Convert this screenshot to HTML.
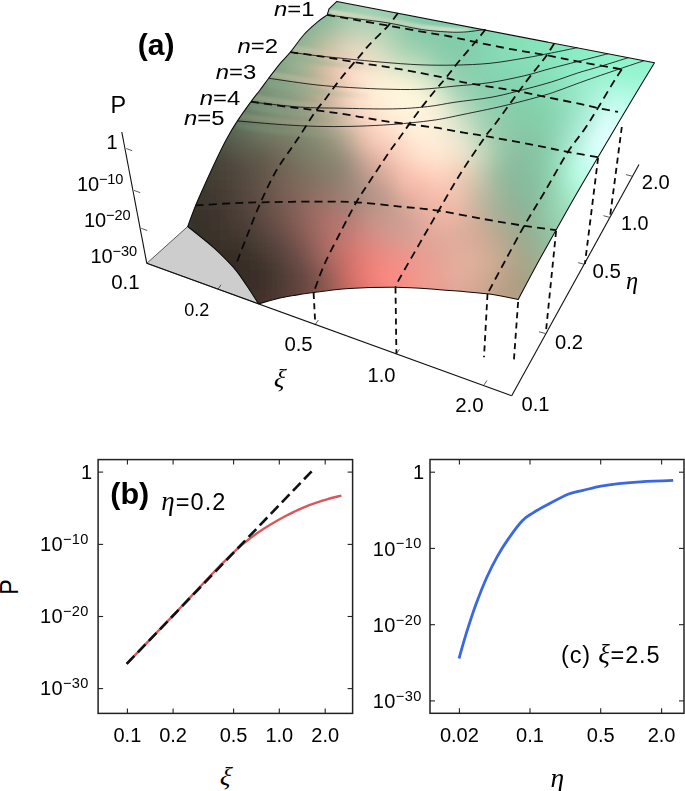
<!DOCTYPE html><html><head><meta charset="utf-8"><title>fig</title><style>html,body{margin:0;padding:0;background:#fff}svg{display:block}</style></head><body><svg width="685" height="791" viewBox="0 0 685 791"><defs><clipPath id="sc"><path d="M187.7,226.5 C189,223 192.8,212.5 195.7,205.3 C198.6,198.1 202,190.7 205.4,183.2 C208.8,175.7 212.5,167.6 216,160.2 C219.5,152.8 223,145.5 226.6,138.9 C230.2,132.3 233.5,126.8 237.6,120.6 C241.7,114.4 247.3,106.7 251,101.6 C254.7,96.5 256.9,94 259.8,90.2 C262.7,86.4 265.3,82.7 268.5,78.5 C271.7,74.3 275.4,69.2 279,64.8 C282.6,60.4 286.3,57.2 290.4,52.2 C294.5,47.2 299.1,40 303.6,35 C308.1,29.9 313.7,25.2 317.6,21.9 C321.5,18.5 325.6,16.1 327.2,14.9 L329,8.8 L336.9,1.4 L654.5,62.8 C650.7,69.1 637.2,91.2 631.5,100.7 C625.8,110.2 625.6,110.6 620,120 C614.4,129.4 605.3,144.8 598.1,157 C590.9,169.2 584,180.8 577,193 C570,205.2 562.9,217.9 556.1,230.1 C549.3,242.3 542.3,254.4 536,266 C529.7,277.6 521.2,293.9 518.2,299.5 C513.1,298.6 501,295.5 487.5,293.8 C474,292.1 452.4,290.5 437.1,289.4 C421.8,288.3 410.1,287.3 395.5,287.2 C380.9,287.1 363.1,287.6 349.5,288.5 C335.9,289.4 324.6,291 313.6,292.5 C302.7,294 293,295.4 283.8,297.3 C274.6,299.2 262.8,302.7 258.6,303.8 C256.7,300.9 251.3,292.2 247.2,286.2 C243,280.2 239.3,274.1 233.7,267.7 C228.1,261.3 221.3,254.5 213.6,247.6 C205.9,240.7 192,230 187.7,226.5 Z"/></clipPath>
<filter id="bl" x="-50%" y="-50%" width="200%" height="200%"><feGaussianBlur stdDeviation="18"/></filter>
<filter id="bl2" x="-50%" y="-50%" width="200%" height="200%"><feGaussianBlur stdDeviation="9"/></filter>
<linearGradient id="base" gradientUnits="userSpaceOnUse" x1="200" y1="260" x2="600" y2="60"><stop offset="0" stop-color="#2e2621"/><stop offset="0.25" stop-color="#6a5a4c"/><stop offset="0.5" stop-color="#a8b69a"/><stop offset="0.75" stop-color="#8cd4b0"/><stop offset="1" stop-color="#8cecc4"/></linearGradient>
<filter id="bl3" x="-10%" y="-10%" width="120%" height="120%"><feGaussianBlur stdDeviation="6"/></filter>
<filter id="bl4" x="-10%" y="-30%" width="120%" height="160%"><feGaussianBlur stdDeviation="1.6"/></filter>
</defs>
<g clip-path="url(#sc)"><g filter="url(#bl3)">
<rect x="310" y="-10" width="10.5" height="10.5" fill="#7cba99"/>
<rect x="320" y="-10" width="10.5" height="10.5" fill="#82bf9e"/>
<rect x="330" y="-10" width="10.5" height="10.5" fill="#88c4a3"/>
<rect x="340" y="-10" width="10.5" height="10.5" fill="#8ec9a8"/>
<rect x="350" y="-10" width="10.5" height="10.5" fill="#91ccab"/>
<rect x="360" y="-10" width="10.5" height="10.5" fill="#92cdac"/>
<rect x="370" y="-10" width="10.5" height="10.5" fill="#90ceac"/>
<rect x="380" y="-10" width="10.5" height="10.5" fill="#8dceac"/>
<rect x="390" y="-10" width="10.5" height="10.5" fill="#88ceab"/>
<rect x="400" y="-10" width="10.5" height="10.5" fill="#84cdaa"/>
<rect x="410" y="-10" width="10.5" height="10.5" fill="#80cdaa"/>
<rect x="290" y="0" width="10.5" height="10.5" fill="#77b291"/>
<rect x="300" y="0" width="10.5" height="10.5" fill="#7bb695"/>
<rect x="310" y="0" width="10.5" height="10.5" fill="#80b999"/>
<rect x="320" y="0" width="10.5" height="10.5" fill="#85be9d"/>
<rect x="330" y="0" width="10.5" height="10.5" fill="#8ec4a4"/>
<rect x="340" y="0" width="10.5" height="10.5" fill="#98ccab"/>
<rect x="350" y="0" width="10.5" height="10.5" fill="#9bceae"/>
<rect x="360" y="0" width="10.5" height="10.5" fill="#9bcfaf"/>
<rect x="370" y="0" width="10.5" height="10.5" fill="#99cfaf"/>
<rect x="380" y="0" width="10.5" height="10.5" fill="#94cfae"/>
<rect x="390" y="0" width="10.5" height="10.5" fill="#8eceac"/>
<rect x="400" y="0" width="10.5" height="10.5" fill="#88cdab"/>
<rect x="410" y="0" width="10.5" height="10.5" fill="#83cdaa"/>
<rect x="420" y="0" width="10.5" height="10.5" fill="#7fcda9"/>
<rect x="430" y="0" width="10.5" height="10.5" fill="#7cceaa"/>
<rect x="440" y="0" width="10.5" height="10.5" fill="#7acfaa"/>
<rect x="450" y="0" width="10.5" height="10.5" fill="#7ad1ab"/>
<rect x="460" y="0" width="10.5" height="10.5" fill="#79d3ad"/>
<rect x="470" y="0" width="10.5" height="10.5" fill="#7ad5ae"/>
<rect x="280" y="10" width="10.5" height="10.5" fill="#76ae8d"/>
<rect x="290" y="10" width="10.5" height="10.5" fill="#7bb191"/>
<rect x="300" y="10" width="10.5" height="10.5" fill="#7fb595"/>
<rect x="310" y="10" width="10.5" height="10.5" fill="#84b898"/>
<rect x="320" y="10" width="10.5" height="10.5" fill="#89bb9b"/>
<rect x="330" y="10" width="10.5" height="10.5" fill="#93c2a2"/>
<rect x="340" y="10" width="10.5" height="10.5" fill="#a1cbac"/>
<rect x="350" y="10" width="10.5" height="10.5" fill="#a6cfb0"/>
<rect x="360" y="10" width="10.5" height="10.5" fill="#a7d0b1"/>
<rect x="370" y="10" width="10.5" height="10.5" fill="#a3d1b1"/>
<rect x="380" y="10" width="10.5" height="10.5" fill="#9cd0b0"/>
<rect x="390" y="10" width="10.5" height="10.5" fill="#94cead"/>
<rect x="400" y="10" width="10.5" height="10.5" fill="#8ccdab"/>
<rect x="410" y="10" width="10.5" height="10.5" fill="#85ccaa"/>
<rect x="420" y="10" width="10.5" height="10.5" fill="#81cca9"/>
<rect x="430" y="10" width="10.5" height="10.5" fill="#7ecda9"/>
<rect x="440" y="10" width="10.5" height="10.5" fill="#7cceaa"/>
<rect x="450" y="10" width="10.5" height="10.5" fill="#7bcfab"/>
<rect x="460" y="10" width="10.5" height="10.5" fill="#7bd2ad"/>
<rect x="470" y="10" width="10.5" height="10.5" fill="#7bd4ae"/>
<rect x="480" y="10" width="10.5" height="10.5" fill="#7cd7b0"/>
<rect x="490" y="10" width="10.5" height="10.5" fill="#7ddab3"/>
<rect x="500" y="10" width="10.5" height="10.5" fill="#7eddb5"/>
<rect x="510" y="10" width="10.5" height="10.5" fill="#7fdfb6"/>
<rect x="520" y="10" width="10.5" height="10.5" fill="#7fe2b8"/>
<rect x="280" y="20" width="10.5" height="10.5" fill="#7aad8d"/>
<rect x="290" y="20" width="10.5" height="10.5" fill="#7fb191"/>
<rect x="300" y="20" width="10.5" height="10.5" fill="#85b495"/>
<rect x="310" y="20" width="10.5" height="10.5" fill="#8cb899"/>
<rect x="320" y="20" width="10.5" height="10.5" fill="#94bb9c"/>
<rect x="330" y="20" width="10.5" height="10.5" fill="#9fc2a3"/>
<rect x="340" y="20" width="10.5" height="10.5" fill="#adcaad"/>
<rect x="350" y="20" width="10.5" height="10.5" fill="#b4d0b2"/>
<rect x="360" y="20" width="10.5" height="10.5" fill="#b4d2b5"/>
<rect x="370" y="20" width="10.5" height="10.5" fill="#b0d3b4"/>
<rect x="380" y="20" width="10.5" height="10.5" fill="#a7d1b2"/>
<rect x="390" y="20" width="10.5" height="10.5" fill="#9bcfaf"/>
<rect x="400" y="20" width="10.5" height="10.5" fill="#8fccab"/>
<rect x="410" y="20" width="10.5" height="10.5" fill="#87cbaa"/>
<rect x="420" y="20" width="10.5" height="10.5" fill="#83cba9"/>
<rect x="430" y="20" width="10.5" height="10.5" fill="#81cca9"/>
<rect x="440" y="20" width="10.5" height="10.5" fill="#7fcdaa"/>
<rect x="450" y="20" width="10.5" height="10.5" fill="#7dceab"/>
<rect x="460" y="20" width="10.5" height="10.5" fill="#7dd1ac"/>
<rect x="470" y="20" width="10.5" height="10.5" fill="#7dd3ae"/>
<rect x="480" y="20" width="10.5" height="10.5" fill="#7ed7b1"/>
<rect x="490" y="20" width="10.5" height="10.5" fill="#80dab3"/>
<rect x="500" y="20" width="10.5" height="10.5" fill="#81ddb5"/>
<rect x="510" y="20" width="10.5" height="10.5" fill="#81dfb7"/>
<rect x="520" y="20" width="10.5" height="10.5" fill="#82e2b8"/>
<rect x="530" y="20" width="10.5" height="10.5" fill="#82e4ba"/>
<rect x="540" y="20" width="10.5" height="10.5" fill="#82e6bb"/>
<rect x="550" y="20" width="10.5" height="10.5" fill="#82e8bd"/>
<rect x="560" y="20" width="10.5" height="10.5" fill="#82eabf"/>
<rect x="570" y="20" width="10.5" height="10.5" fill="#83ebc0"/>
<rect x="270" y="30" width="10.5" height="10.5" fill="#79a889"/>
<rect x="280" y="30" width="10.5" height="10.5" fill="#7fad8d"/>
<rect x="290" y="30" width="10.5" height="10.5" fill="#85b192"/>
<rect x="300" y="30" width="10.5" height="10.5" fill="#8cb596"/>
<rect x="310" y="30" width="10.5" height="10.5" fill="#98b89a"/>
<rect x="320" y="30" width="10.5" height="10.5" fill="#a8bda0"/>
<rect x="330" y="30" width="10.5" height="10.5" fill="#b5c4a8"/>
<rect x="340" y="30" width="10.5" height="10.5" fill="#c0ccb0"/>
<rect x="350" y="30" width="10.5" height="10.5" fill="#c5d2b7"/>
<rect x="360" y="30" width="10.5" height="10.5" fill="#c5d5b9"/>
<rect x="370" y="30" width="10.5" height="10.5" fill="#bfd6b9"/>
<rect x="380" y="30" width="10.5" height="10.5" fill="#b3d4b6"/>
<rect x="390" y="30" width="10.5" height="10.5" fill="#a5d1b1"/>
<rect x="400" y="30" width="10.5" height="10.5" fill="#95cdad"/>
<rect x="410" y="30" width="10.5" height="10.5" fill="#8ccbaa"/>
<rect x="420" y="30" width="10.5" height="10.5" fill="#88cbaa"/>
<rect x="430" y="30" width="10.5" height="10.5" fill="#85ccaa"/>
<rect x="440" y="30" width="10.5" height="10.5" fill="#82ccaa"/>
<rect x="450" y="30" width="10.5" height="10.5" fill="#80cdaa"/>
<rect x="460" y="30" width="10.5" height="10.5" fill="#7fcfac"/>
<rect x="470" y="30" width="10.5" height="10.5" fill="#80d3ae"/>
<rect x="480" y="30" width="10.5" height="10.5" fill="#81d6b1"/>
<rect x="490" y="30" width="10.5" height="10.5" fill="#82dab4"/>
<rect x="500" y="30" width="10.5" height="10.5" fill="#84ddb6"/>
<rect x="510" y="30" width="10.5" height="10.5" fill="#84e0b7"/>
<rect x="520" y="30" width="10.5" height="10.5" fill="#84e2b9"/>
<rect x="530" y="30" width="10.5" height="10.5" fill="#84e4ba"/>
<rect x="540" y="30" width="10.5" height="10.5" fill="#83e6bc"/>
<rect x="550" y="30" width="10.5" height="10.5" fill="#84e8be"/>
<rect x="560" y="30" width="10.5" height="10.5" fill="#84eabf"/>
<rect x="570" y="30" width="10.5" height="10.5" fill="#85ecc1"/>
<rect x="580" y="30" width="10.5" height="10.5" fill="#86edc3"/>
<rect x="590" y="30" width="10.5" height="10.5" fill="#86efc4"/>
<rect x="600" y="30" width="10.5" height="10.5" fill="#86f0c5"/>
<rect x="610" y="30" width="10.5" height="10.5" fill="#87f1c6"/>
<rect x="620" y="30" width="10.5" height="10.5" fill="#87f2c7"/>
<rect x="260" y="40" width="10.5" height="10.5" fill="#76a283"/>
<rect x="270" y="40" width="10.5" height="10.5" fill="#7da788"/>
<rect x="280" y="40" width="10.5" height="10.5" fill="#85ac8d"/>
<rect x="290" y="40" width="10.5" height="10.5" fill="#8db192"/>
<rect x="300" y="40" width="10.5" height="10.5" fill="#96b697"/>
<rect x="310" y="40" width="10.5" height="10.5" fill="#a7b99c"/>
<rect x="320" y="40" width="10.5" height="10.5" fill="#bebfa3"/>
<rect x="330" y="40" width="10.5" height="10.5" fill="#cbc7ac"/>
<rect x="340" y="40" width="10.5" height="10.5" fill="#d5cfb6"/>
<rect x="350" y="40" width="10.5" height="10.5" fill="#dad6bd"/>
<rect x="360" y="40" width="10.5" height="10.5" fill="#d8d9bf"/>
<rect x="370" y="40" width="10.5" height="10.5" fill="#d1dabe"/>
<rect x="380" y="40" width="10.5" height="10.5" fill="#c2d8ba"/>
<rect x="390" y="40" width="10.5" height="10.5" fill="#b1d4b6"/>
<rect x="400" y="40" width="10.5" height="10.5" fill="#a3d1b1"/>
<rect x="410" y="40" width="10.5" height="10.5" fill="#99cfaf"/>
<rect x="420" y="40" width="10.5" height="10.5" fill="#92cead"/>
<rect x="430" y="40" width="10.5" height="10.5" fill="#8bcdab"/>
<rect x="440" y="40" width="10.5" height="10.5" fill="#86ccaa"/>
<rect x="450" y="40" width="10.5" height="10.5" fill="#83ccaa"/>
<rect x="460" y="40" width="10.5" height="10.5" fill="#82ceac"/>
<rect x="470" y="40" width="10.5" height="10.5" fill="#82d2ae"/>
<rect x="480" y="40" width="10.5" height="10.5" fill="#83d6b2"/>
<rect x="490" y="40" width="10.5" height="10.5" fill="#85dab5"/>
<rect x="500" y="40" width="10.5" height="10.5" fill="#86ddb6"/>
<rect x="510" y="40" width="10.5" height="10.5" fill="#87e0b8"/>
<rect x="520" y="40" width="10.5" height="10.5" fill="#86e1b9"/>
<rect x="530" y="40" width="10.5" height="10.5" fill="#85e3ba"/>
<rect x="540" y="40" width="10.5" height="10.5" fill="#85e5bc"/>
<rect x="550" y="40" width="10.5" height="10.5" fill="#86e7be"/>
<rect x="560" y="40" width="10.5" height="10.5" fill="#86eac0"/>
<rect x="570" y="40" width="10.5" height="10.5" fill="#87ecc2"/>
<rect x="580" y="40" width="10.5" height="10.5" fill="#88eec4"/>
<rect x="590" y="40" width="10.5" height="10.5" fill="#89efc6"/>
<rect x="600" y="40" width="10.5" height="10.5" fill="#89f1c7"/>
<rect x="610" y="40" width="10.5" height="10.5" fill="#89f2c8"/>
<rect x="620" y="40" width="10.5" height="10.5" fill="#89f2c8"/>
<rect x="630" y="40" width="10.5" height="10.5" fill="#8af3c9"/>
<rect x="640" y="40" width="10.5" height="10.5" fill="#8af4ca"/>
<rect x="650" y="40" width="10.5" height="10.5" fill="#8cf5cb"/>
<rect x="660" y="40" width="10.5" height="10.5" fill="#8ef6cd"/>
<rect x="250" y="50" width="10.5" height="10.5" fill="#719a7c"/>
<rect x="260" y="50" width="10.5" height="10.5" fill="#78a081"/>
<rect x="270" y="50" width="10.5" height="10.5" fill="#80a587"/>
<rect x="280" y="50" width="10.5" height="10.5" fill="#8aab8c"/>
<rect x="290" y="50" width="10.5" height="10.5" fill="#95b192"/>
<rect x="300" y="50" width="10.5" height="10.5" fill="#a3b697"/>
<rect x="310" y="50" width="10.5" height="10.5" fill="#b5b99d"/>
<rect x="320" y="50" width="10.5" height="10.5" fill="#cdc0a4"/>
<rect x="330" y="50" width="10.5" height="10.5" fill="#ddc9af"/>
<rect x="340" y="50" width="10.5" height="10.5" fill="#e6d2ba"/>
<rect x="350" y="50" width="10.5" height="10.5" fill="#ecdac5"/>
<rect x="360" y="50" width="10.5" height="10.5" fill="#e7ddc5"/>
<rect x="370" y="50" width="10.5" height="10.5" fill="#dfdec4"/>
<rect x="380" y="50" width="10.5" height="10.5" fill="#d0ddc0"/>
<rect x="390" y="50" width="10.5" height="10.5" fill="#bfd9bb"/>
<rect x="400" y="50" width="10.5" height="10.5" fill="#b3d7b8"/>
<rect x="410" y="50" width="10.5" height="10.5" fill="#abd5b5"/>
<rect x="420" y="50" width="10.5" height="10.5" fill="#a0d2b2"/>
<rect x="430" y="50" width="10.5" height="10.5" fill="#94cfae"/>
<rect x="440" y="50" width="10.5" height="10.5" fill="#8bcdac"/>
<rect x="450" y="50" width="10.5" height="10.5" fill="#87cdab"/>
<rect x="460" y="50" width="10.5" height="10.5" fill="#85cdab"/>
<rect x="470" y="50" width="10.5" height="10.5" fill="#84d0ae"/>
<rect x="480" y="50" width="10.5" height="10.5" fill="#85d6b3"/>
<rect x="490" y="50" width="10.5" height="10.5" fill="#86d9b6"/>
<rect x="500" y="50" width="10.5" height="10.5" fill="#87dcb6"/>
<rect x="510" y="50" width="10.5" height="10.5" fill="#87deb7"/>
<rect x="520" y="50" width="10.5" height="10.5" fill="#86e0b8"/>
<rect x="530" y="50" width="10.5" height="10.5" fill="#86e2b9"/>
<rect x="540" y="50" width="10.5" height="10.5" fill="#86e4bb"/>
<rect x="550" y="50" width="10.5" height="10.5" fill="#87e7be"/>
<rect x="560" y="50" width="10.5" height="10.5" fill="#89eac1"/>
<rect x="570" y="50" width="10.5" height="10.5" fill="#8aecc4"/>
<rect x="580" y="50" width="10.5" height="10.5" fill="#8ceec6"/>
<rect x="590" y="50" width="10.5" height="10.5" fill="#8df0c8"/>
<rect x="600" y="50" width="10.5" height="10.5" fill="#8df1c9"/>
<rect x="610" y="50" width="10.5" height="10.5" fill="#8df2ca"/>
<rect x="620" y="50" width="10.5" height="10.5" fill="#8cf3ca"/>
<rect x="630" y="50" width="10.5" height="10.5" fill="#8cf3ca"/>
<rect x="640" y="50" width="10.5" height="10.5" fill="#8df4cb"/>
<rect x="650" y="50" width="10.5" height="10.5" fill="#8ff5cd"/>
<rect x="660" y="50" width="10.5" height="10.5" fill="#91f6cf"/>
<rect x="240" y="60" width="10.5" height="10.5" fill="#6c9275"/>
<rect x="250" y="60" width="10.5" height="10.5" fill="#72977a"/>
<rect x="260" y="60" width="10.5" height="10.5" fill="#799d7f"/>
<rect x="270" y="60" width="10.5" height="10.5" fill="#82a385"/>
<rect x="280" y="60" width="10.5" height="10.5" fill="#8ca98a"/>
<rect x="290" y="60" width="10.5" height="10.5" fill="#99b091"/>
<rect x="300" y="60" width="10.5" height="10.5" fill="#a7b496"/>
<rect x="310" y="60" width="10.5" height="10.5" fill="#b9b79a"/>
<rect x="320" y="60" width="10.5" height="10.5" fill="#d4bfa4"/>
<rect x="330" y="60" width="10.5" height="10.5" fill="#e7c8af"/>
<rect x="340" y="60" width="10.5" height="10.5" fill="#f0d2bc"/>
<rect x="350" y="60" width="10.5" height="10.5" fill="#f5dbc6"/>
<rect x="360" y="60" width="10.5" height="10.5" fill="#f2dfc9"/>
<rect x="370" y="60" width="10.5" height="10.5" fill="#ece2ca"/>
<rect x="380" y="60" width="10.5" height="10.5" fill="#e1e3c8"/>
<rect x="390" y="60" width="10.5" height="10.5" fill="#d4e2c5"/>
<rect x="400" y="60" width="10.5" height="10.5" fill="#c9e0c1"/>
<rect x="410" y="60" width="10.5" height="10.5" fill="#c0ddbe"/>
<rect x="420" y="60" width="10.5" height="10.5" fill="#b4d9ba"/>
<rect x="430" y="60" width="10.5" height="10.5" fill="#a3d4b4"/>
<rect x="440" y="60" width="10.5" height="10.5" fill="#96d0b0"/>
<rect x="450" y="60" width="10.5" height="10.5" fill="#8fceae"/>
<rect x="460" y="60" width="10.5" height="10.5" fill="#89ceac"/>
<rect x="470" y="60" width="10.5" height="10.5" fill="#86d0ae"/>
<rect x="480" y="60" width="10.5" height="10.5" fill="#86d4b2"/>
<rect x="490" y="60" width="10.5" height="10.5" fill="#86d7b4"/>
<rect x="500" y="60" width="10.5" height="10.5" fill="#86d9b5"/>
<rect x="510" y="60" width="10.5" height="10.5" fill="#86dbb5"/>
<rect x="520" y="60" width="10.5" height="10.5" fill="#86ddb6"/>
<rect x="530" y="60" width="10.5" height="10.5" fill="#86dfb8"/>
<rect x="540" y="60" width="10.5" height="10.5" fill="#87e2bb"/>
<rect x="550" y="60" width="10.5" height="10.5" fill="#88e5be"/>
<rect x="560" y="60" width="10.5" height="10.5" fill="#8be9c1"/>
<rect x="570" y="60" width="10.5" height="10.5" fill="#8decc5"/>
<rect x="580" y="60" width="10.5" height="10.5" fill="#90eec8"/>
<rect x="590" y="60" width="10.5" height="10.5" fill="#92f0cb"/>
<rect x="600" y="60" width="10.5" height="10.5" fill="#93f2cc"/>
<rect x="610" y="60" width="10.5" height="10.5" fill="#92f3cd"/>
<rect x="620" y="60" width="10.5" height="10.5" fill="#90f4cc"/>
<rect x="630" y="60" width="10.5" height="10.5" fill="#90f4cc"/>
<rect x="640" y="60" width="10.5" height="10.5" fill="#90f5cd"/>
<rect x="650" y="60" width="10.5" height="10.5" fill="#93f6cf"/>
<rect x="660" y="60" width="10.5" height="10.5" fill="#95f7d1"/>
<rect x="240" y="70" width="10.5" height="10.5" fill="#6c8e72"/>
<rect x="250" y="70" width="10.5" height="10.5" fill="#729478"/>
<rect x="260" y="70" width="10.5" height="10.5" fill="#7a9a7d"/>
<rect x="270" y="70" width="10.5" height="10.5" fill="#82a082"/>
<rect x="280" y="70" width="10.5" height="10.5" fill="#8ba687"/>
<rect x="290" y="70" width="10.5" height="10.5" fill="#97ab8d"/>
<rect x="300" y="70" width="10.5" height="10.5" fill="#a5af92"/>
<rect x="310" y="70" width="10.5" height="10.5" fill="#b9b398"/>
<rect x="320" y="70" width="10.5" height="10.5" fill="#d2bba2"/>
<rect x="330" y="70" width="10.5" height="10.5" fill="#e6c5ad"/>
<rect x="340" y="70" width="10.5" height="10.5" fill="#f4d1bc"/>
<rect x="350" y="70" width="10.5" height="10.5" fill="#fbdec9"/>
<rect x="360" y="70" width="10.5" height="10.5" fill="#fbe5cf"/>
<rect x="370" y="70" width="10.5" height="10.5" fill="#f8e8d1"/>
<rect x="380" y="70" width="10.5" height="10.5" fill="#f2ebd2"/>
<rect x="390" y="70" width="10.5" height="10.5" fill="#eaebd0"/>
<rect x="400" y="70" width="10.5" height="10.5" fill="#e2eace"/>
<rect x="410" y="70" width="10.5" height="10.5" fill="#d8e7c9"/>
<rect x="420" y="70" width="10.5" height="10.5" fill="#cbe2c4"/>
<rect x="430" y="70" width="10.5" height="10.5" fill="#b9dcbe"/>
<rect x="440" y="70" width="10.5" height="10.5" fill="#a7d6b7"/>
<rect x="450" y="70" width="10.5" height="10.5" fill="#98d1b1"/>
<rect x="460" y="70" width="10.5" height="10.5" fill="#8ecfae"/>
<rect x="470" y="70" width="10.5" height="10.5" fill="#89d0ae"/>
<rect x="480" y="70" width="10.5" height="10.5" fill="#87d2b0"/>
<rect x="490" y="70" width="10.5" height="10.5" fill="#86d4b1"/>
<rect x="500" y="70" width="10.5" height="10.5" fill="#85d6b2"/>
<rect x="510" y="70" width="10.5" height="10.5" fill="#85d8b3"/>
<rect x="520" y="70" width="10.5" height="10.5" fill="#85dab4"/>
<rect x="530" y="70" width="10.5" height="10.5" fill="#86ddb6"/>
<rect x="540" y="70" width="10.5" height="10.5" fill="#87e0b9"/>
<rect x="550" y="70" width="10.5" height="10.5" fill="#89e3bd"/>
<rect x="560" y="70" width="10.5" height="10.5" fill="#8de7c1"/>
<rect x="570" y="70" width="10.5" height="10.5" fill="#91ebc6"/>
<rect x="580" y="70" width="10.5" height="10.5" fill="#95eeca"/>
<rect x="590" y="70" width="10.5" height="10.5" fill="#98f0ce"/>
<rect x="600" y="70" width="10.5" height="10.5" fill="#9af3d1"/>
<rect x="610" y="70" width="10.5" height="10.5" fill="#9af4d2"/>
<rect x="620" y="70" width="10.5" height="10.5" fill="#98f5d1"/>
<rect x="630" y="70" width="10.5" height="10.5" fill="#97f5d1"/>
<rect x="640" y="70" width="10.5" height="10.5" fill="#97f6d1"/>
<rect x="650" y="70" width="10.5" height="10.5" fill="#99f7d3"/>
<rect x="660" y="70" width="10.5" height="10.5" fill="#9bf8d5"/>
<rect x="230" y="80" width="10.5" height="10.5" fill="#65846a"/>
<rect x="240" y="80" width="10.5" height="10.5" fill="#6b8a6f"/>
<rect x="250" y="80" width="10.5" height="10.5" fill="#729175"/>
<rect x="260" y="80" width="10.5" height="10.5" fill="#79977a"/>
<rect x="270" y="80" width="10.5" height="10.5" fill="#819c7f"/>
<rect x="280" y="80" width="10.5" height="10.5" fill="#88a184"/>
<rect x="290" y="80" width="10.5" height="10.5" fill="#92a688"/>
<rect x="300" y="80" width="10.5" height="10.5" fill="#a2aa8e"/>
<rect x="310" y="80" width="10.5" height="10.5" fill="#b7b095"/>
<rect x="320" y="80" width="10.5" height="10.5" fill="#ceb79e"/>
<rect x="330" y="80" width="10.5" height="10.5" fill="#e3c2ab"/>
<rect x="340" y="80" width="10.5" height="10.5" fill="#f4cfbb"/>
<rect x="350" y="80" width="10.5" height="10.5" fill="#fddec9"/>
<rect x="360" y="80" width="10.5" height="10.5" fill="#ffe8d2"/>
<rect x="370" y="80" width="10.5" height="10.5" fill="#ffedd6"/>
<rect x="380" y="80" width="10.5" height="10.5" fill="#fef1d8"/>
<rect x="390" y="80" width="10.5" height="10.5" fill="#fbf3d9"/>
<rect x="400" y="80" width="10.5" height="10.5" fill="#f7f2d8"/>
<rect x="410" y="80" width="10.5" height="10.5" fill="#efefd5"/>
<rect x="420" y="80" width="10.5" height="10.5" fill="#e2ebcf"/>
<rect x="430" y="80" width="10.5" height="10.5" fill="#cfe4c7"/>
<rect x="440" y="80" width="10.5" height="10.5" fill="#b8dcbe"/>
<rect x="450" y="80" width="10.5" height="10.5" fill="#a1d4b4"/>
<rect x="460" y="80" width="10.5" height="10.5" fill="#95d0b0"/>
<rect x="470" y="80" width="10.5" height="10.5" fill="#8ed0af"/>
<rect x="480" y="80" width="10.5" height="10.5" fill="#88d0ae"/>
<rect x="490" y="80" width="10.5" height="10.5" fill="#86d1af"/>
<rect x="500" y="80" width="10.5" height="10.5" fill="#85d3b0"/>
<rect x="510" y="80" width="10.5" height="10.5" fill="#84d5b0"/>
<rect x="520" y="80" width="10.5" height="10.5" fill="#84d7b2"/>
<rect x="530" y="80" width="10.5" height="10.5" fill="#85d9b4"/>
<rect x="540" y="80" width="10.5" height="10.5" fill="#87dcb7"/>
<rect x="550" y="80" width="10.5" height="10.5" fill="#8ae0bb"/>
<rect x="560" y="80" width="10.5" height="10.5" fill="#8ee4c0"/>
<rect x="570" y="80" width="10.5" height="10.5" fill="#94e9c7"/>
<rect x="580" y="80" width="10.5" height="10.5" fill="#9aedcd"/>
<rect x="590" y="80" width="10.5" height="10.5" fill="#a0f1d3"/>
<rect x="600" y="80" width="10.5" height="10.5" fill="#a4f4d8"/>
<rect x="610" y="80" width="10.5" height="10.5" fill="#a6f7da"/>
<rect x="620" y="80" width="10.5" height="10.5" fill="#a4f7da"/>
<rect x="630" y="80" width="10.5" height="10.5" fill="#a1f7d8"/>
<rect x="640" y="80" width="10.5" height="10.5" fill="#a0f8d8"/>
<rect x="650" y="80" width="10.5" height="10.5" fill="#a1f9d8"/>
<rect x="660" y="80" width="10.5" height="10.5" fill="#a2fad9"/>
<rect x="220" y="90" width="10.5" height="10.5" fill="#5e7a62"/>
<rect x="230" y="90" width="10.5" height="10.5" fill="#648067"/>
<rect x="240" y="90" width="10.5" height="10.5" fill="#6b866c"/>
<rect x="250" y="90" width="10.5" height="10.5" fill="#728d71"/>
<rect x="260" y="90" width="10.5" height="10.5" fill="#799377"/>
<rect x="270" y="90" width="10.5" height="10.5" fill="#80987c"/>
<rect x="280" y="90" width="10.5" height="10.5" fill="#879d80"/>
<rect x="290" y="90" width="10.5" height="10.5" fill="#8fa184"/>
<rect x="300" y="90" width="10.5" height="10.5" fill="#9fa58a"/>
<rect x="310" y="90" width="10.5" height="10.5" fill="#b3ab91"/>
<rect x="320" y="90" width="10.5" height="10.5" fill="#c9b29a"/>
<rect x="330" y="90" width="10.5" height="10.5" fill="#debfa8"/>
<rect x="340" y="90" width="10.5" height="10.5" fill="#f1d0bb"/>
<rect x="350" y="90" width="10.5" height="10.5" fill="#fddec9"/>
<rect x="360" y="90" width="10.5" height="10.5" fill="#ffe7d1"/>
<rect x="370" y="90" width="10.5" height="10.5" fill="#ffeed7"/>
<rect x="380" y="90" width="10.5" height="10.5" fill="#fff2da"/>
<rect x="390" y="90" width="10.5" height="10.5" fill="#fff5dc"/>
<rect x="400" y="90" width="10.5" height="10.5" fill="#fff5dd"/>
<rect x="410" y="90" width="10.5" height="10.5" fill="#fcf4db"/>
<rect x="420" y="90" width="10.5" height="10.5" fill="#f2f1d7"/>
<rect x="430" y="90" width="10.5" height="10.5" fill="#e3ebd0"/>
<rect x="440" y="90" width="10.5" height="10.5" fill="#cce2c6"/>
<rect x="450" y="90" width="10.5" height="10.5" fill="#b1d9bb"/>
<rect x="460" y="90" width="10.5" height="10.5" fill="#a1d4b5"/>
<rect x="470" y="90" width="10.5" height="10.5" fill="#95d1b1"/>
<rect x="480" y="90" width="10.5" height="10.5" fill="#8bceae"/>
<rect x="490" y="90" width="10.5" height="10.5" fill="#88cfae"/>
<rect x="500" y="90" width="10.5" height="10.5" fill="#86d1ae"/>
<rect x="510" y="90" width="10.5" height="10.5" fill="#85d2ae"/>
<rect x="520" y="90" width="10.5" height="10.5" fill="#84d4af"/>
<rect x="530" y="90" width="10.5" height="10.5" fill="#85d6b1"/>
<rect x="540" y="90" width="10.5" height="10.5" fill="#87d9b4"/>
<rect x="550" y="90" width="10.5" height="10.5" fill="#8addb9"/>
<rect x="560" y="90" width="10.5" height="10.5" fill="#90e2bf"/>
<rect x="570" y="90" width="10.5" height="10.5" fill="#97e7c7"/>
<rect x="580" y="90" width="10.5" height="10.5" fill="#a0ecd0"/>
<rect x="590" y="90" width="10.5" height="10.5" fill="#a9f2d8"/>
<rect x="600" y="90" width="10.5" height="10.5" fill="#b0f6df"/>
<rect x="610" y="90" width="10.5" height="10.5" fill="#b4fae3"/>
<rect x="620" y="90" width="10.5" height="10.5" fill="#b3fbe4"/>
<rect x="630" y="90" width="10.5" height="10.5" fill="#abf9de"/>
<rect x="640" y="90" width="10.5" height="10.5" fill="#aafade"/>
<rect x="650" y="90" width="10.5" height="10.5" fill="#aafbde"/>
<rect x="660" y="90" width="10.5" height="10.5" fill="#a9fbde"/>
<rect x="220" y="100" width="10.5" height="10.5" fill="#5d745d"/>
<rect x="230" y="100" width="10.5" height="10.5" fill="#637a62"/>
<rect x="240" y="100" width="10.5" height="10.5" fill="#698168"/>
<rect x="250" y="100" width="10.5" height="10.5" fill="#70886e"/>
<rect x="260" y="100" width="10.5" height="10.5" fill="#788f74"/>
<rect x="270" y="100" width="10.5" height="10.5" fill="#7f9579"/>
<rect x="280" y="100" width="10.5" height="10.5" fill="#86987c"/>
<rect x="290" y="100" width="10.5" height="10.5" fill="#8e9b80"/>
<rect x="300" y="100" width="10.5" height="10.5" fill="#9ba085"/>
<rect x="310" y="100" width="10.5" height="10.5" fill="#aca68c"/>
<rect x="320" y="100" width="10.5" height="10.5" fill="#c0af96"/>
<rect x="330" y="100" width="10.5" height="10.5" fill="#d6bca5"/>
<rect x="340" y="100" width="10.5" height="10.5" fill="#ebccb6"/>
<rect x="350" y="100" width="10.5" height="10.5" fill="#f9d9c4"/>
<rect x="360" y="100" width="10.5" height="10.5" fill="#ffe2cd"/>
<rect x="370" y="100" width="10.5" height="10.5" fill="#ffead3"/>
<rect x="380" y="100" width="10.5" height="10.5" fill="#ffefd8"/>
<rect x="390" y="100" width="10.5" height="10.5" fill="#fff3db"/>
<rect x="400" y="100" width="10.5" height="10.5" fill="#fff5dd"/>
<rect x="410" y="100" width="10.5" height="10.5" fill="#fff5dd"/>
<rect x="420" y="100" width="10.5" height="10.5" fill="#fbf3db"/>
<rect x="430" y="100" width="10.5" height="10.5" fill="#f4efd7"/>
<rect x="440" y="100" width="10.5" height="10.5" fill="#dee7ce"/>
<rect x="450" y="100" width="10.5" height="10.5" fill="#c5dfc3"/>
<rect x="460" y="100" width="10.5" height="10.5" fill="#b0d8bb"/>
<rect x="470" y="100" width="10.5" height="10.5" fill="#a0d3b5"/>
<rect x="480" y="100" width="10.5" height="10.5" fill="#94d0b0"/>
<rect x="490" y="100" width="10.5" height="10.5" fill="#8dcfae"/>
<rect x="500" y="100" width="10.5" height="10.5" fill="#89cfad"/>
<rect x="510" y="100" width="10.5" height="10.5" fill="#86cfac"/>
<rect x="520" y="100" width="10.5" height="10.5" fill="#84d0ac"/>
<rect x="530" y="100" width="10.5" height="10.5" fill="#84d2ae"/>
<rect x="540" y="100" width="10.5" height="10.5" fill="#86d5b1"/>
<rect x="550" y="100" width="10.5" height="10.5" fill="#8ad9b6"/>
<rect x="560" y="100" width="10.5" height="10.5" fill="#91dfbe"/>
<rect x="570" y="100" width="10.5" height="10.5" fill="#9ae5c8"/>
<rect x="580" y="100" width="10.5" height="10.5" fill="#a5ecd3"/>
<rect x="590" y="100" width="10.5" height="10.5" fill="#b3f3de"/>
<rect x="600" y="100" width="10.5" height="10.5" fill="#bff8e8"/>
<rect x="610" y="100" width="10.5" height="10.5" fill="#c0fcec"/>
<rect x="620" y="100" width="10.5" height="10.5" fill="#c0feed"/>
<rect x="630" y="100" width="10.5" height="10.5" fill="#bafde9"/>
<rect x="640" y="100" width="10.5" height="10.5" fill="#b5fde6"/>
<rect x="650" y="100" width="10.5" height="10.5" fill="#b3fde4"/>
<rect x="210" y="110" width="10.5" height="10.5" fill="#566854"/>
<rect x="220" y="110" width="10.5" height="10.5" fill="#5b6e59"/>
<rect x="230" y="110" width="10.5" height="10.5" fill="#61745e"/>
<rect x="240" y="110" width="10.5" height="10.5" fill="#687b63"/>
<rect x="250" y="110" width="10.5" height="10.5" fill="#6f8269"/>
<rect x="260" y="110" width="10.5" height="10.5" fill="#76896f"/>
<rect x="270" y="110" width="10.5" height="10.5" fill="#7d8e74"/>
<rect x="280" y="110" width="10.5" height="10.5" fill="#839176"/>
<rect x="290" y="110" width="10.5" height="10.5" fill="#8a947a"/>
<rect x="300" y="110" width="10.5" height="10.5" fill="#94997e"/>
<rect x="310" y="110" width="10.5" height="10.5" fill="#a29f85"/>
<rect x="320" y="110" width="10.5" height="10.5" fill="#b4a890"/>
<rect x="330" y="110" width="10.5" height="10.5" fill="#c9b59e"/>
<rect x="340" y="110" width="10.5" height="10.5" fill="#e0c4ae"/>
<rect x="350" y="110" width="10.5" height="10.5" fill="#f2d1bc"/>
<rect x="360" y="110" width="10.5" height="10.5" fill="#fad9c4"/>
<rect x="370" y="110" width="10.5" height="10.5" fill="#ffe1cc"/>
<rect x="380" y="110" width="10.5" height="10.5" fill="#ffe9d3"/>
<rect x="390" y="110" width="10.5" height="10.5" fill="#ffeed7"/>
<rect x="400" y="110" width="10.5" height="10.5" fill="#fff2da"/>
<rect x="410" y="110" width="10.5" height="10.5" fill="#fff3dc"/>
<rect x="420" y="110" width="10.5" height="10.5" fill="#fff2dc"/>
<rect x="430" y="110" width="10.5" height="10.5" fill="#f8efd9"/>
<rect x="440" y="110" width="10.5" height="10.5" fill="#e8ead2"/>
<rect x="450" y="110" width="10.5" height="10.5" fill="#d3e3c9"/>
<rect x="460" y="110" width="10.5" height="10.5" fill="#bfdcc0"/>
<rect x="470" y="110" width="10.5" height="10.5" fill="#acd6b9"/>
<rect x="480" y="110" width="10.5" height="10.5" fill="#9ed2b3"/>
<rect x="490" y="110" width="10.5" height="10.5" fill="#94d0af"/>
<rect x="500" y="110" width="10.5" height="10.5" fill="#8cceac"/>
<rect x="510" y="110" width="10.5" height="10.5" fill="#87cdaa"/>
<rect x="520" y="110" width="10.5" height="10.5" fill="#85ceaa"/>
<rect x="530" y="110" width="10.5" height="10.5" fill="#85cfab"/>
<rect x="540" y="110" width="10.5" height="10.5" fill="#86d2ae"/>
<rect x="550" y="110" width="10.5" height="10.5" fill="#89d5b2"/>
<rect x="560" y="110" width="10.5" height="10.5" fill="#92dcbd"/>
<rect x="570" y="110" width="10.5" height="10.5" fill="#9ee5ca"/>
<rect x="580" y="110" width="10.5" height="10.5" fill="#aaecd6"/>
<rect x="590" y="110" width="10.5" height="10.5" fill="#bbf4e4"/>
<rect x="600" y="110" width="10.5" height="10.5" fill="#d4fcf4"/>
<rect x="610" y="110" width="10.5" height="10.5" fill="#d3fff7"/>
<rect x="620" y="110" width="10.5" height="10.5" fill="#ccfff4"/>
<rect x="630" y="110" width="10.5" height="10.5" fill="#c5fff0"/>
<rect x="640" y="110" width="10.5" height="10.5" fill="#bfffed"/>
<rect x="200" y="120" width="10.5" height="10.5" fill="#4e5d4b"/>
<rect x="210" y="120" width="10.5" height="10.5" fill="#53614f"/>
<rect x="220" y="120" width="10.5" height="10.5" fill="#596753"/>
<rect x="230" y="120" width="10.5" height="10.5" fill="#5f6d58"/>
<rect x="240" y="120" width="10.5" height="10.5" fill="#65735e"/>
<rect x="250" y="120" width="10.5" height="10.5" fill="#6c7b64"/>
<rect x="260" y="120" width="10.5" height="10.5" fill="#738169"/>
<rect x="270" y="120" width="10.5" height="10.5" fill="#79856d"/>
<rect x="280" y="120" width="10.5" height="10.5" fill="#7f8970"/>
<rect x="290" y="120" width="10.5" height="10.5" fill="#848c73"/>
<rect x="300" y="120" width="10.5" height="10.5" fill="#8c9178"/>
<rect x="310" y="120" width="10.5" height="10.5" fill="#97977e"/>
<rect x="320" y="120" width="10.5" height="10.5" fill="#a59f87"/>
<rect x="330" y="120" width="10.5" height="10.5" fill="#b8ab93"/>
<rect x="340" y="120" width="10.5" height="10.5" fill="#cfb8a2"/>
<rect x="350" y="120" width="10.5" height="10.5" fill="#e4c5b0"/>
<rect x="360" y="120" width="10.5" height="10.5" fill="#f3cfbb"/>
<rect x="370" y="120" width="10.5" height="10.5" fill="#fcd9c4"/>
<rect x="380" y="120" width="10.5" height="10.5" fill="#ffe1cd"/>
<rect x="390" y="120" width="10.5" height="10.5" fill="#ffe7d2"/>
<rect x="400" y="120" width="10.5" height="10.5" fill="#ffedd7"/>
<rect x="410" y="120" width="10.5" height="10.5" fill="#fff1da"/>
<rect x="420" y="120" width="10.5" height="10.5" fill="#fff1db"/>
<rect x="430" y="120" width="10.5" height="10.5" fill="#faefd9"/>
<rect x="440" y="120" width="10.5" height="10.5" fill="#eeebd4"/>
<rect x="450" y="120" width="10.5" height="10.5" fill="#dee5cd"/>
<rect x="460" y="120" width="10.5" height="10.5" fill="#cbdfc5"/>
<rect x="470" y="120" width="10.5" height="10.5" fill="#b7d9bc"/>
<rect x="480" y="120" width="10.5" height="10.5" fill="#a3d2b3"/>
<rect x="490" y="120" width="10.5" height="10.5" fill="#96cead"/>
<rect x="500" y="120" width="10.5" height="10.5" fill="#8fccaa"/>
<rect x="510" y="120" width="10.5" height="10.5" fill="#89cba9"/>
<rect x="520" y="120" width="10.5" height="10.5" fill="#86cba8"/>
<rect x="530" y="120" width="10.5" height="10.5" fill="#85cca9"/>
<rect x="540" y="120" width="10.5" height="10.5" fill="#87d0ad"/>
<rect x="550" y="120" width="10.5" height="10.5" fill="#8cd5b3"/>
<rect x="560" y="120" width="10.5" height="10.5" fill="#96ddbf"/>
<rect x="570" y="120" width="10.5" height="10.5" fill="#a3e6cd"/>
<rect x="580" y="120" width="10.5" height="10.5" fill="#b2eedc"/>
<rect x="590" y="120" width="10.5" height="10.5" fill="#c6f6eb"/>
<rect x="600" y="120" width="10.5" height="10.5" fill="#dbfefa"/>
<rect x="610" y="120" width="10.5" height="10.5" fill="#d9fffb"/>
<rect x="620" y="120" width="10.5" height="10.5" fill="#d4fff9"/>
<rect x="630" y="120" width="10.5" height="10.5" fill="#cdfff5"/>
<rect x="640" y="120" width="10.5" height="10.5" fill="#c7fff2"/>
<rect x="200" y="130" width="10.5" height="10.5" fill="#4c5646"/>
<rect x="210" y="130" width="10.5" height="10.5" fill="#505a49"/>
<rect x="220" y="130" width="10.5" height="10.5" fill="#565f4d"/>
<rect x="230" y="130" width="10.5" height="10.5" fill="#5c6552"/>
<rect x="240" y="130" width="10.5" height="10.5" fill="#626b57"/>
<rect x="250" y="130" width="10.5" height="10.5" fill="#69725d"/>
<rect x="260" y="130" width="10.5" height="10.5" fill="#707862"/>
<rect x="270" y="130" width="10.5" height="10.5" fill="#757b65"/>
<rect x="280" y="130" width="10.5" height="10.5" fill="#7a7f68"/>
<rect x="290" y="130" width="10.5" height="10.5" fill="#7e846c"/>
<rect x="300" y="130" width="10.5" height="10.5" fill="#838970"/>
<rect x="310" y="130" width="10.5" height="10.5" fill="#8b8f76"/>
<rect x="320" y="130" width="10.5" height="10.5" fill="#96957d"/>
<rect x="330" y="130" width="10.5" height="10.5" fill="#a69f88"/>
<rect x="340" y="130" width="10.5" height="10.5" fill="#bdac96"/>
<rect x="350" y="130" width="10.5" height="10.5" fill="#d6b9a4"/>
<rect x="360" y="130" width="10.5" height="10.5" fill="#ecc5b1"/>
<rect x="370" y="130" width="10.5" height="10.5" fill="#f9cfbc"/>
<rect x="380" y="130" width="10.5" height="10.5" fill="#fcd7c4"/>
<rect x="390" y="130" width="10.5" height="10.5" fill="#fedcc9"/>
<rect x="400" y="130" width="10.5" height="10.5" fill="#ffe6d1"/>
<rect x="410" y="130" width="10.5" height="10.5" fill="#ffecd6"/>
<rect x="420" y="130" width="10.5" height="10.5" fill="#ffeed9"/>
<rect x="430" y="130" width="10.5" height="10.5" fill="#fcedd8"/>
<rect x="440" y="130" width="10.5" height="10.5" fill="#f4ead4"/>
<rect x="450" y="130" width="10.5" height="10.5" fill="#e8e7d0"/>
<rect x="460" y="130" width="10.5" height="10.5" fill="#d7e2ca"/>
<rect x="470" y="130" width="10.5" height="10.5" fill="#c2dbc0"/>
<rect x="480" y="130" width="10.5" height="10.5" fill="#add3b5"/>
<rect x="490" y="130" width="10.5" height="10.5" fill="#9ccdad"/>
<rect x="500" y="130" width="10.5" height="10.5" fill="#92caa9"/>
<rect x="510" y="130" width="10.5" height="10.5" fill="#8bc8a7"/>
<rect x="520" y="130" width="10.5" height="10.5" fill="#87c8a6"/>
<rect x="530" y="130" width="10.5" height="10.5" fill="#86c9a7"/>
<rect x="540" y="130" width="10.5" height="10.5" fill="#88cdac"/>
<rect x="550" y="130" width="10.5" height="10.5" fill="#8fd5b5"/>
<rect x="560" y="130" width="10.5" height="10.5" fill="#9bdec2"/>
<rect x="570" y="130" width="10.5" height="10.5" fill="#a9e8d2"/>
<rect x="580" y="130" width="10.5" height="10.5" fill="#bdf2e3"/>
<rect x="590" y="130" width="10.5" height="10.5" fill="#d6fbf5"/>
<rect x="600" y="130" width="10.5" height="10.5" fill="#e0fffe"/>
<rect x="610" y="130" width="10.5" height="10.5" fill="#ddfffe"/>
<rect x="620" y="130" width="10.5" height="10.5" fill="#d8fffc"/>
<rect x="630" y="130" width="10.5" height="10.5" fill="#d2fff8"/>
<rect x="190" y="140" width="10.5" height="10.5" fill="#454d3f"/>
<rect x="200" y="140" width="10.5" height="10.5" fill="#494f41"/>
<rect x="210" y="140" width="10.5" height="10.5" fill="#4d5243"/>
<rect x="220" y="140" width="10.5" height="10.5" fill="#525647"/>
<rect x="230" y="140" width="10.5" height="10.5" fill="#595c4b"/>
<rect x="240" y="140" width="10.5" height="10.5" fill="#5e6150"/>
<rect x="250" y="140" width="10.5" height="10.5" fill="#646654"/>
<rect x="260" y="140" width="10.5" height="10.5" fill="#6a6b59"/>
<rect x="270" y="140" width="10.5" height="10.5" fill="#71705d"/>
<rect x="280" y="140" width="10.5" height="10.5" fill="#787561"/>
<rect x="290" y="140" width="10.5" height="10.5" fill="#7a7b66"/>
<rect x="300" y="140" width="10.5" height="10.5" fill="#7c816a"/>
<rect x="310" y="140" width="10.5" height="10.5" fill="#83876f"/>
<rect x="320" y="140" width="10.5" height="10.5" fill="#8c8d75"/>
<rect x="330" y="140" width="10.5" height="10.5" fill="#98947e"/>
<rect x="340" y="140" width="10.5" height="10.5" fill="#ac9f8b"/>
<rect x="350" y="140" width="10.5" height="10.5" fill="#c7ad9a"/>
<rect x="360" y="140" width="10.5" height="10.5" fill="#e4bba9"/>
<rect x="370" y="140" width="10.5" height="10.5" fill="#f3c5b4"/>
<rect x="380" y="140" width="10.5" height="10.5" fill="#f8ccbb"/>
<rect x="390" y="140" width="10.5" height="10.5" fill="#fbd4c1"/>
<rect x="400" y="140" width="10.5" height="10.5" fill="#feddca"/>
<rect x="410" y="140" width="10.5" height="10.5" fill="#fee4d0"/>
<rect x="420" y="140" width="10.5" height="10.5" fill="#ffead6"/>
<rect x="430" y="140" width="10.5" height="10.5" fill="#fdecd8"/>
<rect x="440" y="140" width="10.5" height="10.5" fill="#fae9d3"/>
<rect x="450" y="140" width="10.5" height="10.5" fill="#f2e6d0"/>
<rect x="460" y="140" width="10.5" height="10.5" fill="#e2e5ce"/>
<rect x="470" y="140" width="10.5" height="10.5" fill="#cdddc3"/>
<rect x="480" y="140" width="10.5" height="10.5" fill="#bad5b8"/>
<rect x="490" y="140" width="10.5" height="10.5" fill="#a5ceae"/>
<rect x="500" y="140" width="10.5" height="10.5" fill="#94c7a7"/>
<rect x="510" y="140" width="10.5" height="10.5" fill="#8cc5a4"/>
<rect x="520" y="140" width="10.5" height="10.5" fill="#87c4a4"/>
<rect x="530" y="140" width="10.5" height="10.5" fill="#86c7a5"/>
<rect x="540" y="140" width="10.5" height="10.5" fill="#89cbaa"/>
<rect x="550" y="140" width="10.5" height="10.5" fill="#92d5b6"/>
<rect x="560" y="140" width="10.5" height="10.5" fill="#9fe1c6"/>
<rect x="570" y="140" width="10.5" height="10.5" fill="#aeecd6"/>
<rect x="580" y="140" width="10.5" height="10.5" fill="#c4f6e9"/>
<rect x="590" y="140" width="10.5" height="10.5" fill="#dafffa"/>
<rect x="600" y="140" width="10.5" height="10.5" fill="#dcfffe"/>
<rect x="610" y="140" width="10.5" height="10.5" fill="#dcfffe"/>
<rect x="620" y="140" width="10.5" height="10.5" fill="#d8fffc"/>
<rect x="630" y="140" width="10.5" height="10.5" fill="#d3fff9"/>
<rect x="190" y="150" width="10.5" height="10.5" fill="#43473a"/>
<rect x="200" y="150" width="10.5" height="10.5" fill="#46483b"/>
<rect x="210" y="150" width="10.5" height="10.5" fill="#4a4a3d"/>
<rect x="220" y="150" width="10.5" height="10.5" fill="#4e4c3f"/>
<rect x="230" y="150" width="10.5" height="10.5" fill="#555345"/>
<rect x="240" y="150" width="10.5" height="10.5" fill="#5b5849"/>
<rect x="250" y="150" width="10.5" height="10.5" fill="#5f5b4c"/>
<rect x="260" y="150" width="10.5" height="10.5" fill="#645f4f"/>
<rect x="270" y="150" width="10.5" height="10.5" fill="#6d6756"/>
<rect x="280" y="150" width="10.5" height="10.5" fill="#746d5c"/>
<rect x="290" y="150" width="10.5" height="10.5" fill="#777461"/>
<rect x="300" y="150" width="10.5" height="10.5" fill="#7a7b67"/>
<rect x="310" y="150" width="10.5" height="10.5" fill="#80806b"/>
<rect x="320" y="150" width="10.5" height="10.5" fill="#878670"/>
<rect x="330" y="150" width="10.5" height="10.5" fill="#8f8b76"/>
<rect x="340" y="150" width="10.5" height="10.5" fill="#9e9380"/>
<rect x="350" y="150" width="10.5" height="10.5" fill="#b8a08f"/>
<rect x="360" y="150" width="10.5" height="10.5" fill="#d4ad9d"/>
<rect x="370" y="150" width="10.5" height="10.5" fill="#e5b6a6"/>
<rect x="380" y="150" width="10.5" height="10.5" fill="#efc1b0"/>
<rect x="390" y="150" width="10.5" height="10.5" fill="#f7ccba"/>
<rect x="400" y="150" width="10.5" height="10.5" fill="#fcd5c2"/>
<rect x="410" y="150" width="10.5" height="10.5" fill="#feddc9"/>
<rect x="420" y="150" width="10.5" height="10.5" fill="#ffe3cf"/>
<rect x="430" y="150" width="10.5" height="10.5" fill="#fee7d1"/>
<rect x="440" y="150" width="10.5" height="10.5" fill="#fbe5cf"/>
<rect x="450" y="150" width="10.5" height="10.5" fill="#f4e2cc"/>
<rect x="460" y="150" width="10.5" height="10.5" fill="#e7e0c9"/>
<rect x="470" y="150" width="10.5" height="10.5" fill="#d3dac1"/>
<rect x="480" y="150" width="10.5" height="10.5" fill="#c0d3b7"/>
<rect x="490" y="150" width="10.5" height="10.5" fill="#a6ccac"/>
<rect x="500" y="150" width="10.5" height="10.5" fill="#95c3a5"/>
<rect x="510" y="150" width="10.5" height="10.5" fill="#8cc0a1"/>
<rect x="520" y="150" width="10.5" height="10.5" fill="#87c1a1"/>
<rect x="530" y="150" width="10.5" height="10.5" fill="#86c5a4"/>
<rect x="540" y="150" width="10.5" height="10.5" fill="#89ccaa"/>
<rect x="550" y="150" width="10.5" height="10.5" fill="#93d7b7"/>
<rect x="560" y="150" width="10.5" height="10.5" fill="#a3e5c9"/>
<rect x="570" y="150" width="10.5" height="10.5" fill="#b6f1dd"/>
<rect x="580" y="150" width="10.5" height="10.5" fill="#c9fbef"/>
<rect x="590" y="150" width="10.5" height="10.5" fill="#d5fff9"/>
<rect x="600" y="150" width="10.5" height="10.5" fill="#d9fffd"/>
<rect x="610" y="150" width="10.5" height="10.5" fill="#d9fffd"/>
<rect x="620" y="150" width="10.5" height="10.5" fill="#d6fffb"/>
<rect x="190" y="160" width="10.5" height="10.5" fill="#404136"/>
<rect x="200" y="160" width="10.5" height="10.5" fill="#444237"/>
<rect x="210" y="160" width="10.5" height="10.5" fill="#474338"/>
<rect x="220" y="160" width="10.5" height="10.5" fill="#4b443a"/>
<rect x="230" y="160" width="10.5" height="10.5" fill="#514a3f"/>
<rect x="240" y="160" width="10.5" height="10.5" fill="#585044"/>
<rect x="250" y="160" width="10.5" height="10.5" fill="#5d5547"/>
<rect x="260" y="160" width="10.5" height="10.5" fill="#64594c"/>
<rect x="270" y="160" width="10.5" height="10.5" fill="#6c6152"/>
<rect x="280" y="160" width="10.5" height="10.5" fill="#726858"/>
<rect x="290" y="160" width="10.5" height="10.5" fill="#776e5e"/>
<rect x="300" y="160" width="10.5" height="10.5" fill="#7b7463"/>
<rect x="310" y="160" width="10.5" height="10.5" fill="#7f7a67"/>
<rect x="320" y="160" width="10.5" height="10.5" fill="#85806b"/>
<rect x="330" y="160" width="10.5" height="10.5" fill="#8a8470"/>
<rect x="340" y="160" width="10.5" height="10.5" fill="#948978"/>
<rect x="350" y="160" width="10.5" height="10.5" fill="#ab9585"/>
<rect x="360" y="160" width="10.5" height="10.5" fill="#c5a292"/>
<rect x="370" y="160" width="10.5" height="10.5" fill="#d8ab9c"/>
<rect x="380" y="160" width="10.5" height="10.5" fill="#e5b5a5"/>
<rect x="390" y="160" width="10.5" height="10.5" fill="#f0c0af"/>
<rect x="400" y="160" width="10.5" height="10.5" fill="#f9cab8"/>
<rect x="410" y="160" width="10.5" height="10.5" fill="#fdd2bf"/>
<rect x="420" y="160" width="10.5" height="10.5" fill="#ffd8c4"/>
<rect x="430" y="160" width="10.5" height="10.5" fill="#fedcc7"/>
<rect x="440" y="160" width="10.5" height="10.5" fill="#fbdbc5"/>
<rect x="450" y="160" width="10.5" height="10.5" fill="#f4d8c2"/>
<rect x="460" y="160" width="10.5" height="10.5" fill="#e8d7bf"/>
<rect x="470" y="160" width="10.5" height="10.5" fill="#d4d3b9"/>
<rect x="480" y="160" width="10.5" height="10.5" fill="#bbcdb0"/>
<rect x="490" y="160" width="10.5" height="10.5" fill="#a2c5a7"/>
<rect x="500" y="160" width="10.5" height="10.5" fill="#93bfa1"/>
<rect x="510" y="160" width="10.5" height="10.5" fill="#8bbc9f"/>
<rect x="520" y="160" width="10.5" height="10.5" fill="#87bfa0"/>
<rect x="530" y="160" width="10.5" height="10.5" fill="#87c4a3"/>
<rect x="540" y="160" width="10.5" height="10.5" fill="#8acdaa"/>
<rect x="550" y="160" width="10.5" height="10.5" fill="#94d9b8"/>
<rect x="560" y="160" width="10.5" height="10.5" fill="#a5e8cb"/>
<rect x="570" y="160" width="10.5" height="10.5" fill="#b6f6e0"/>
<rect x="580" y="160" width="10.5" height="10.5" fill="#c5fff0"/>
<rect x="590" y="160" width="10.5" height="10.5" fill="#cffff6"/>
<rect x="600" y="160" width="10.5" height="10.5" fill="#d3fff9"/>
<rect x="610" y="160" width="10.5" height="10.5" fill="#d4fff9"/>
<rect x="180" y="170" width="10.5" height="10.5" fill="#3c3c32"/>
<rect x="190" y="170" width="10.5" height="10.5" fill="#3e3d33"/>
<rect x="200" y="170" width="10.5" height="10.5" fill="#413e34"/>
<rect x="210" y="170" width="10.5" height="10.5" fill="#453f35"/>
<rect x="220" y="170" width="10.5" height="10.5" fill="#4a4238"/>
<rect x="230" y="170" width="10.5" height="10.5" fill="#50463c"/>
<rect x="240" y="170" width="10.5" height="10.5" fill="#564c41"/>
<rect x="250" y="170" width="10.5" height="10.5" fill="#5d5246"/>
<rect x="260" y="170" width="10.5" height="10.5" fill="#65574b"/>
<rect x="270" y="170" width="10.5" height="10.5" fill="#6d5e51"/>
<rect x="280" y="170" width="10.5" height="10.5" fill="#736456"/>
<rect x="290" y="170" width="10.5" height="10.5" fill="#786a5b"/>
<rect x="300" y="170" width="10.5" height="10.5" fill="#7d705f"/>
<rect x="310" y="170" width="10.5" height="10.5" fill="#827564"/>
<rect x="320" y="170" width="10.5" height="10.5" fill="#877a69"/>
<rect x="330" y="170" width="10.5" height="10.5" fill="#8b7f6d"/>
<rect x="340" y="170" width="10.5" height="10.5" fill="#958676"/>
<rect x="350" y="170" width="10.5" height="10.5" fill="#a68f80"/>
<rect x="360" y="170" width="10.5" height="10.5" fill="#ba998b"/>
<rect x="370" y="170" width="10.5" height="10.5" fill="#cca393"/>
<rect x="380" y="170" width="10.5" height="10.5" fill="#d9aa9a"/>
<rect x="390" y="170" width="10.5" height="10.5" fill="#e9b6a6"/>
<rect x="400" y="170" width="10.5" height="10.5" fill="#f6c0af"/>
<rect x="410" y="170" width="10.5" height="10.5" fill="#fbc5b4"/>
<rect x="420" y="170" width="10.5" height="10.5" fill="#fdcbb9"/>
<rect x="430" y="170" width="10.5" height="10.5" fill="#fdd2be"/>
<rect x="440" y="170" width="10.5" height="10.5" fill="#fad2bd"/>
<rect x="450" y="170" width="10.5" height="10.5" fill="#f2cdb6"/>
<rect x="460" y="170" width="10.5" height="10.5" fill="#e5ccb4"/>
<rect x="470" y="170" width="10.5" height="10.5" fill="#d2cab0"/>
<rect x="480" y="170" width="10.5" height="10.5" fill="#bac5aa"/>
<rect x="490" y="170" width="10.5" height="10.5" fill="#a1bea2"/>
<rect x="500" y="170" width="10.5" height="10.5" fill="#91ba9d"/>
<rect x="510" y="170" width="10.5" height="10.5" fill="#8bba9d"/>
<rect x="520" y="170" width="10.5" height="10.5" fill="#87bd9e"/>
<rect x="530" y="170" width="10.5" height="10.5" fill="#87c2a2"/>
<rect x="540" y="170" width="10.5" height="10.5" fill="#8bcca9"/>
<rect x="550" y="170" width="10.5" height="10.5" fill="#94d8b6"/>
<rect x="560" y="170" width="10.5" height="10.5" fill="#a6e9cc"/>
<rect x="570" y="170" width="10.5" height="10.5" fill="#b7f8e1"/>
<rect x="580" y="170" width="10.5" height="10.5" fill="#c0feeb"/>
<rect x="590" y="170" width="10.5" height="10.5" fill="#c8fff0"/>
<rect x="600" y="170" width="10.5" height="10.5" fill="#ccfff3"/>
<rect x="610" y="170" width="10.5" height="10.5" fill="#cefff4"/>
<rect x="180" y="180" width="10.5" height="10.5" fill="#3a392f"/>
<rect x="190" y="180" width="10.5" height="10.5" fill="#3d3930"/>
<rect x="200" y="180" width="10.5" height="10.5" fill="#403a31"/>
<rect x="210" y="180" width="10.5" height="10.5" fill="#443c33"/>
<rect x="220" y="180" width="10.5" height="10.5" fill="#493f36"/>
<rect x="230" y="180" width="10.5" height="10.5" fill="#4f443b"/>
<rect x="240" y="180" width="10.5" height="10.5" fill="#564a40"/>
<rect x="250" y="180" width="10.5" height="10.5" fill="#5d5045"/>
<rect x="260" y="180" width="10.5" height="10.5" fill="#65554a"/>
<rect x="270" y="180" width="10.5" height="10.5" fill="#6e5c50"/>
<rect x="280" y="180" width="10.5" height="10.5" fill="#786356"/>
<rect x="290" y="180" width="10.5" height="10.5" fill="#7b6759"/>
<rect x="300" y="180" width="10.5" height="10.5" fill="#816c5e"/>
<rect x="310" y="180" width="10.5" height="10.5" fill="#877163"/>
<rect x="320" y="180" width="10.5" height="10.5" fill="#8c7768"/>
<rect x="330" y="180" width="10.5" height="10.5" fill="#917d6d"/>
<rect x="340" y="180" width="10.5" height="10.5" fill="#978375"/>
<rect x="350" y="180" width="10.5" height="10.5" fill="#a38b7d"/>
<rect x="360" y="180" width="10.5" height="10.5" fill="#b29386"/>
<rect x="370" y="180" width="10.5" height="10.5" fill="#c19b8d"/>
<rect x="380" y="180" width="10.5" height="10.5" fill="#cda394"/>
<rect x="390" y="180" width="10.5" height="10.5" fill="#deae9e"/>
<rect x="400" y="180" width="10.5" height="10.5" fill="#f2bbab"/>
<rect x="410" y="180" width="10.5" height="10.5" fill="#f6bbab"/>
<rect x="420" y="180" width="10.5" height="10.5" fill="#f9c0ae"/>
<rect x="430" y="180" width="10.5" height="10.5" fill="#fac8b5"/>
<rect x="440" y="180" width="10.5" height="10.5" fill="#f8c9b5"/>
<rect x="450" y="180" width="10.5" height="10.5" fill="#f1c7b2"/>
<rect x="460" y="180" width="10.5" height="10.5" fill="#e3c5ae"/>
<rect x="470" y="180" width="10.5" height="10.5" fill="#cfc2aa"/>
<rect x="480" y="180" width="10.5" height="10.5" fill="#bbbfa6"/>
<rect x="490" y="180" width="10.5" height="10.5" fill="#a3b99f"/>
<rect x="500" y="180" width="10.5" height="10.5" fill="#95b79b"/>
<rect x="510" y="180" width="10.5" height="10.5" fill="#8cb89b"/>
<rect x="520" y="180" width="10.5" height="10.5" fill="#88bb9d"/>
<rect x="530" y="180" width="10.5" height="10.5" fill="#88c0a0"/>
<rect x="540" y="180" width="10.5" height="10.5" fill="#8ccaa9"/>
<rect x="550" y="180" width="10.5" height="10.5" fill="#96d8b6"/>
<rect x="560" y="180" width="10.5" height="10.5" fill="#a3e7c8"/>
<rect x="570" y="180" width="10.5" height="10.5" fill="#b1f4d9"/>
<rect x="580" y="180" width="10.5" height="10.5" fill="#bafae3"/>
<rect x="590" y="180" width="10.5" height="10.5" fill="#c1fce9"/>
<rect x="600" y="180" width="10.5" height="10.5" fill="#c6fdec"/>
<rect x="180" y="190" width="10.5" height="10.5" fill="#38352d"/>
<rect x="190" y="190" width="10.5" height="10.5" fill="#3b362e"/>
<rect x="200" y="190" width="10.5" height="10.5" fill="#3e372f"/>
<rect x="210" y="190" width="10.5" height="10.5" fill="#423931"/>
<rect x="220" y="190" width="10.5" height="10.5" fill="#473d35"/>
<rect x="230" y="190" width="10.5" height="10.5" fill="#4d4239"/>
<rect x="240" y="190" width="10.5" height="10.5" fill="#55473e"/>
<rect x="250" y="190" width="10.5" height="10.5" fill="#5d4d43"/>
<rect x="260" y="190" width="10.5" height="10.5" fill="#655349"/>
<rect x="270" y="190" width="10.5" height="10.5" fill="#6f594e"/>
<rect x="280" y="190" width="10.5" height="10.5" fill="#785f54"/>
<rect x="290" y="190" width="10.5" height="10.5" fill="#7f6458"/>
<rect x="300" y="190" width="10.5" height="10.5" fill="#876a5d"/>
<rect x="310" y="190" width="10.5" height="10.5" fill="#8e6f63"/>
<rect x="320" y="190" width="10.5" height="10.5" fill="#947468"/>
<rect x="330" y="190" width="10.5" height="10.5" fill="#987b6d"/>
<rect x="340" y="190" width="10.5" height="10.5" fill="#9c8173"/>
<rect x="350" y="190" width="10.5" height="10.5" fill="#a2887a"/>
<rect x="360" y="190" width="10.5" height="10.5" fill="#ac8f82"/>
<rect x="370" y="190" width="10.5" height="10.5" fill="#b99689"/>
<rect x="380" y="190" width="10.5" height="10.5" fill="#c09b8c"/>
<rect x="390" y="190" width="10.5" height="10.5" fill="#d2a696"/>
<rect x="400" y="190" width="10.5" height="10.5" fill="#e3af9f"/>
<rect x="410" y="190" width="10.5" height="10.5" fill="#edb4a4"/>
<rect x="420" y="190" width="10.5" height="10.5" fill="#f2b9a8"/>
<rect x="430" y="190" width="10.5" height="10.5" fill="#f5bdac"/>
<rect x="440" y="190" width="10.5" height="10.5" fill="#f6bfad"/>
<rect x="450" y="190" width="10.5" height="10.5" fill="#f2c2af"/>
<rect x="460" y="190" width="10.5" height="10.5" fill="#e1bfaa"/>
<rect x="470" y="190" width="10.5" height="10.5" fill="#cbbba4"/>
<rect x="480" y="190" width="10.5" height="10.5" fill="#b8b9a1"/>
<rect x="490" y="190" width="10.5" height="10.5" fill="#a8b69b"/>
<rect x="500" y="190" width="10.5" height="10.5" fill="#99b599"/>
<rect x="510" y="190" width="10.5" height="10.5" fill="#8fb599"/>
<rect x="520" y="190" width="10.5" height="10.5" fill="#8ab99b"/>
<rect x="530" y="190" width="10.5" height="10.5" fill="#8abfa0"/>
<rect x="540" y="190" width="10.5" height="10.5" fill="#8dc9a8"/>
<rect x="550" y="190" width="10.5" height="10.5" fill="#95d6b4"/>
<rect x="560" y="190" width="10.5" height="10.5" fill="#a0e3c2"/>
<rect x="570" y="190" width="10.5" height="10.5" fill="#aaedcf"/>
<rect x="580" y="190" width="10.5" height="10.5" fill="#b4f3d9"/>
<rect x="590" y="190" width="10.5" height="10.5" fill="#bbf7e0"/>
<rect x="600" y="190" width="10.5" height="10.5" fill="#c0f9e4"/>
<rect x="180" y="200" width="10.5" height="10.5" fill="#37332b"/>
<rect x="190" y="200" width="10.5" height="10.5" fill="#39342c"/>
<rect x="200" y="200" width="10.5" height="10.5" fill="#3c352d"/>
<rect x="210" y="200" width="10.5" height="10.5" fill="#403730"/>
<rect x="220" y="200" width="10.5" height="10.5" fill="#463b33"/>
<rect x="230" y="200" width="10.5" height="10.5" fill="#4c4037"/>
<rect x="240" y="200" width="10.5" height="10.5" fill="#53453c"/>
<rect x="250" y="200" width="10.5" height="10.5" fill="#5b4a41"/>
<rect x="260" y="200" width="10.5" height="10.5" fill="#645047"/>
<rect x="270" y="200" width="10.5" height="10.5" fill="#6e564c"/>
<rect x="280" y="200" width="10.5" height="10.5" fill="#785c52"/>
<rect x="290" y="200" width="10.5" height="10.5" fill="#826158"/>
<rect x="300" y="200" width="10.5" height="10.5" fill="#8d675d"/>
<rect x="310" y="200" width="10.5" height="10.5" fill="#966d63"/>
<rect x="320" y="200" width="10.5" height="10.5" fill="#9d7268"/>
<rect x="330" y="200" width="10.5" height="10.5" fill="#a2786d"/>
<rect x="340" y="200" width="10.5" height="10.5" fill="#a57f73"/>
<rect x="350" y="200" width="10.5" height="10.5" fill="#aa8679"/>
<rect x="360" y="200" width="10.5" height="10.5" fill="#b18d81"/>
<rect x="370" y="200" width="10.5" height="10.5" fill="#ba9487"/>
<rect x="380" y="200" width="10.5" height="10.5" fill="#c0998c"/>
<rect x="390" y="200" width="10.5" height="10.5" fill="#cba093"/>
<rect x="400" y="200" width="10.5" height="10.5" fill="#d8a899"/>
<rect x="410" y="200" width="10.5" height="10.5" fill="#e3ad9e"/>
<rect x="420" y="200" width="10.5" height="10.5" fill="#ebb3a3"/>
<rect x="430" y="200" width="10.5" height="10.5" fill="#f0b7a6"/>
<rect x="440" y="200" width="10.5" height="10.5" fill="#f1b8a7"/>
<rect x="450" y="200" width="10.5" height="10.5" fill="#edbba9"/>
<rect x="460" y="200" width="10.5" height="10.5" fill="#dfbaa6"/>
<rect x="470" y="200" width="10.5" height="10.5" fill="#ccb7a1"/>
<rect x="480" y="200" width="10.5" height="10.5" fill="#b7b59d"/>
<rect x="490" y="200" width="10.5" height="10.5" fill="#a5b39a"/>
<rect x="500" y="200" width="10.5" height="10.5" fill="#9bb297"/>
<rect x="510" y="200" width="10.5" height="10.5" fill="#92b297"/>
<rect x="520" y="200" width="10.5" height="10.5" fill="#8cb699"/>
<rect x="530" y="200" width="10.5" height="10.5" fill="#8cbd9e"/>
<rect x="540" y="200" width="10.5" height="10.5" fill="#8fc8a7"/>
<rect x="550" y="200" width="10.5" height="10.5" fill="#96d3b1"/>
<rect x="560" y="200" width="10.5" height="10.5" fill="#9edebd"/>
<rect x="570" y="200" width="10.5" height="10.5" fill="#a7e6c8"/>
<rect x="580" y="200" width="10.5" height="10.5" fill="#afedd1"/>
<rect x="590" y="200" width="10.5" height="10.5" fill="#b5f1d8"/>
<rect x="180" y="210" width="10.5" height="10.5" fill="#36312a"/>
<rect x="190" y="210" width="10.5" height="10.5" fill="#38322b"/>
<rect x="200" y="210" width="10.5" height="10.5" fill="#3b332d"/>
<rect x="210" y="210" width="10.5" height="10.5" fill="#3f362f"/>
<rect x="220" y="210" width="10.5" height="10.5" fill="#443932"/>
<rect x="230" y="210" width="10.5" height="10.5" fill="#493d36"/>
<rect x="240" y="210" width="10.5" height="10.5" fill="#50423a"/>
<rect x="250" y="210" width="10.5" height="10.5" fill="#58473e"/>
<rect x="260" y="210" width="10.5" height="10.5" fill="#624c44"/>
<rect x="270" y="210" width="10.5" height="10.5" fill="#6c524a"/>
<rect x="280" y="210" width="10.5" height="10.5" fill="#775850"/>
<rect x="290" y="210" width="10.5" height="10.5" fill="#835e56"/>
<rect x="300" y="210" width="10.5" height="10.5" fill="#91655d"/>
<rect x="310" y="210" width="10.5" height="10.5" fill="#9c6b63"/>
<rect x="320" y="210" width="10.5" height="10.5" fill="#a77068"/>
<rect x="330" y="210" width="10.5" height="10.5" fill="#ae776e"/>
<rect x="340" y="210" width="10.5" height="10.5" fill="#af7b72"/>
<rect x="350" y="210" width="10.5" height="10.5" fill="#b48379"/>
<rect x="360" y="210" width="10.5" height="10.5" fill="#bb8c82"/>
<rect x="370" y="210" width="10.5" height="10.5" fill="#c29489"/>
<rect x="380" y="210" width="10.5" height="10.5" fill="#c6988d"/>
<rect x="390" y="210" width="10.5" height="10.5" fill="#c99d91"/>
<rect x="400" y="210" width="10.5" height="10.5" fill="#d0a396"/>
<rect x="410" y="210" width="10.5" height="10.5" fill="#dba89b"/>
<rect x="420" y="210" width="10.5" height="10.5" fill="#e5ae9f"/>
<rect x="430" y="210" width="10.5" height="10.5" fill="#ebb2a2"/>
<rect x="440" y="210" width="10.5" height="10.5" fill="#eeb6a5"/>
<rect x="450" y="210" width="10.5" height="10.5" fill="#e9b6a4"/>
<rect x="460" y="210" width="10.5" height="10.5" fill="#ddb4a1"/>
<rect x="470" y="210" width="10.5" height="10.5" fill="#ceb29e"/>
<rect x="480" y="210" width="10.5" height="10.5" fill="#bdb09a"/>
<rect x="490" y="210" width="10.5" height="10.5" fill="#adaf98"/>
<rect x="500" y="210" width="10.5" height="10.5" fill="#a1af96"/>
<rect x="510" y="210" width="10.5" height="10.5" fill="#97b095"/>
<rect x="520" y="210" width="10.5" height="10.5" fill="#90b397"/>
<rect x="530" y="210" width="10.5" height="10.5" fill="#8fbb9c"/>
<rect x="540" y="210" width="10.5" height="10.5" fill="#91c6a4"/>
<rect x="550" y="210" width="10.5" height="10.5" fill="#96d1ae"/>
<rect x="560" y="210" width="10.5" height="10.5" fill="#9dd9b8"/>
<rect x="570" y="210" width="10.5" height="10.5" fill="#a4e1c1"/>
<rect x="580" y="210" width="10.5" height="10.5" fill="#abe6c9"/>
<rect x="590" y="210" width="10.5" height="10.5" fill="#b1ead0"/>
<rect x="180" y="220" width="10.5" height="10.5" fill="#342f28"/>
<rect x="190" y="220" width="10.5" height="10.5" fill="#363029"/>
<rect x="200" y="220" width="10.5" height="10.5" fill="#39312b"/>
<rect x="210" y="220" width="10.5" height="10.5" fill="#3d342d"/>
<rect x="220" y="220" width="10.5" height="10.5" fill="#41372f"/>
<rect x="230" y="220" width="10.5" height="10.5" fill="#463a33"/>
<rect x="240" y="220" width="10.5" height="10.5" fill="#4c3e37"/>
<rect x="250" y="220" width="10.5" height="10.5" fill="#54433b"/>
<rect x="260" y="220" width="10.5" height="10.5" fill="#5d4840"/>
<rect x="270" y="220" width="10.5" height="10.5" fill="#684e46"/>
<rect x="280" y="220" width="10.5" height="10.5" fill="#73544c"/>
<rect x="290" y="220" width="10.5" height="10.5" fill="#805b53"/>
<rect x="300" y="220" width="10.5" height="10.5" fill="#8f625a"/>
<rect x="310" y="220" width="10.5" height="10.5" fill="#9d6961"/>
<rect x="320" y="220" width="10.5" height="10.5" fill="#aa6f68"/>
<rect x="330" y="220" width="10.5" height="10.5" fill="#b4756d"/>
<rect x="340" y="220" width="10.5" height="10.5" fill="#b87a71"/>
<rect x="350" y="220" width="10.5" height="10.5" fill="#be8178"/>
<rect x="360" y="220" width="10.5" height="10.5" fill="#c68b81"/>
<rect x="370" y="220" width="10.5" height="10.5" fill="#cb9289"/>
<rect x="380" y="220" width="10.5" height="10.5" fill="#cc978d"/>
<rect x="390" y="220" width="10.5" height="10.5" fill="#cd9b91"/>
<rect x="400" y="220" width="10.5" height="10.5" fill="#d09f94"/>
<rect x="410" y="220" width="10.5" height="10.5" fill="#d8a498"/>
<rect x="420" y="220" width="10.5" height="10.5" fill="#e1a99c"/>
<rect x="430" y="220" width="10.5" height="10.5" fill="#e6ae9f"/>
<rect x="440" y="220" width="10.5" height="10.5" fill="#e9b1a1"/>
<rect x="450" y="220" width="10.5" height="10.5" fill="#e5b1a0"/>
<rect x="460" y="220" width="10.5" height="10.5" fill="#dcb09d"/>
<rect x="470" y="220" width="10.5" height="10.5" fill="#d2ae9a"/>
<rect x="480" y="220" width="10.5" height="10.5" fill="#c5ac97"/>
<rect x="490" y="220" width="10.5" height="10.5" fill="#b6ac95"/>
<rect x="500" y="220" width="10.5" height="10.5" fill="#a8ac94"/>
<rect x="510" y="220" width="10.5" height="10.5" fill="#9dae93"/>
<rect x="520" y="220" width="10.5" height="10.5" fill="#95b195"/>
<rect x="530" y="220" width="10.5" height="10.5" fill="#91b89a"/>
<rect x="540" y="220" width="10.5" height="10.5" fill="#92c3a2"/>
<rect x="550" y="220" width="10.5" height="10.5" fill="#97ceab"/>
<rect x="560" y="220" width="10.5" height="10.5" fill="#9cd5b3"/>
<rect x="570" y="220" width="10.5" height="10.5" fill="#a2dbbb"/>
<rect x="580" y="220" width="10.5" height="10.5" fill="#a8e0c2"/>
<rect x="180" y="230" width="10.5" height="10.5" fill="#332d27"/>
<rect x="190" y="230" width="10.5" height="10.5" fill="#352e28"/>
<rect x="200" y="230" width="10.5" height="10.5" fill="#373029"/>
<rect x="210" y="230" width="10.5" height="10.5" fill="#3a322b"/>
<rect x="220" y="230" width="10.5" height="10.5" fill="#3d342d"/>
<rect x="230" y="230" width="10.5" height="10.5" fill="#42372f"/>
<rect x="240" y="230" width="10.5" height="10.5" fill="#473a33"/>
<rect x="250" y="230" width="10.5" height="10.5" fill="#4e3f37"/>
<rect x="260" y="230" width="10.5" height="10.5" fill="#57443c"/>
<rect x="270" y="230" width="10.5" height="10.5" fill="#614942"/>
<rect x="280" y="230" width="10.5" height="10.5" fill="#6d4f48"/>
<rect x="290" y="230" width="10.5" height="10.5" fill="#7a564f"/>
<rect x="300" y="230" width="10.5" height="10.5" fill="#8a5e57"/>
<rect x="310" y="230" width="10.5" height="10.5" fill="#9a665f"/>
<rect x="320" y="230" width="10.5" height="10.5" fill="#aa6d66"/>
<rect x="330" y="230" width="10.5" height="10.5" fill="#b7736c"/>
<rect x="340" y="230" width="10.5" height="10.5" fill="#c07871"/>
<rect x="350" y="230" width="10.5" height="10.5" fill="#c87f77"/>
<rect x="360" y="230" width="10.5" height="10.5" fill="#d0877f"/>
<rect x="370" y="230" width="10.5" height="10.5" fill="#d48e86"/>
<rect x="380" y="230" width="10.5" height="10.5" fill="#d5948b"/>
<rect x="390" y="230" width="10.5" height="10.5" fill="#d59990"/>
<rect x="400" y="230" width="10.5" height="10.5" fill="#d79d92"/>
<rect x="410" y="230" width="10.5" height="10.5" fill="#dba196"/>
<rect x="420" y="230" width="10.5" height="10.5" fill="#e0a699"/>
<rect x="430" y="230" width="10.5" height="10.5" fill="#e3a99b"/>
<rect x="440" y="230" width="10.5" height="10.5" fill="#e3ab9b"/>
<rect x="450" y="230" width="10.5" height="10.5" fill="#e1ac9b"/>
<rect x="460" y="230" width="10.5" height="10.5" fill="#dcac9a"/>
<rect x="470" y="230" width="10.5" height="10.5" fill="#d4aa96"/>
<rect x="480" y="230" width="10.5" height="10.5" fill="#ccaa95"/>
<rect x="490" y="230" width="10.5" height="10.5" fill="#bdaa93"/>
<rect x="500" y="230" width="10.5" height="10.5" fill="#afaa92"/>
<rect x="510" y="230" width="10.5" height="10.5" fill="#a3ab91"/>
<rect x="520" y="230" width="10.5" height="10.5" fill="#9aac91"/>
<rect x="530" y="230" width="10.5" height="10.5" fill="#94b496"/>
<rect x="540" y="230" width="10.5" height="10.5" fill="#93be9f"/>
<rect x="550" y="230" width="10.5" height="10.5" fill="#97c8a6"/>
<rect x="560" y="230" width="10.5" height="10.5" fill="#9ccfae"/>
<rect x="570" y="230" width="10.5" height="10.5" fill="#a2d5b5"/>
<rect x="180" y="240" width="10.5" height="10.5" fill="#312c25"/>
<rect x="190" y="240" width="10.5" height="10.5" fill="#332c26"/>
<rect x="200" y="240" width="10.5" height="10.5" fill="#352e27"/>
<rect x="210" y="240" width="10.5" height="10.5" fill="#372f28"/>
<rect x="220" y="240" width="10.5" height="10.5" fill="#3a312a"/>
<rect x="230" y="240" width="10.5" height="10.5" fill="#3d332c"/>
<rect x="240" y="240" width="10.5" height="10.5" fill="#41362e"/>
<rect x="250" y="240" width="10.5" height="10.5" fill="#473a32"/>
<rect x="260" y="240" width="10.5" height="10.5" fill="#4f3f37"/>
<rect x="270" y="240" width="10.5" height="10.5" fill="#59443d"/>
<rect x="280" y="240" width="10.5" height="10.5" fill="#654a44"/>
<rect x="290" y="240" width="10.5" height="10.5" fill="#72514a"/>
<rect x="300" y="240" width="10.5" height="10.5" fill="#835953"/>
<rect x="310" y="240" width="10.5" height="10.5" fill="#96635c"/>
<rect x="320" y="240" width="10.5" height="10.5" fill="#a96c64"/>
<rect x="330" y="240" width="10.5" height="10.5" fill="#b97169"/>
<rect x="340" y="240" width="10.5" height="10.5" fill="#c6766e"/>
<rect x="350" y="240" width="10.5" height="10.5" fill="#d27c74"/>
<rect x="360" y="240" width="10.5" height="10.5" fill="#da847b"/>
<rect x="370" y="240" width="10.5" height="10.5" fill="#de8a82"/>
<rect x="380" y="240" width="10.5" height="10.5" fill="#df9188"/>
<rect x="390" y="240" width="10.5" height="10.5" fill="#df968d"/>
<rect x="400" y="240" width="10.5" height="10.5" fill="#e09a8f"/>
<rect x="410" y="240" width="10.5" height="10.5" fill="#e19e93"/>
<rect x="420" y="240" width="10.5" height="10.5" fill="#e2a296"/>
<rect x="430" y="240" width="10.5" height="10.5" fill="#e2a698"/>
<rect x="440" y="240" width="10.5" height="10.5" fill="#e1a999"/>
<rect x="450" y="240" width="10.5" height="10.5" fill="#e1ab9a"/>
<rect x="460" y="240" width="10.5" height="10.5" fill="#dead9a"/>
<rect x="470" y="240" width="10.5" height="10.5" fill="#d8ac98"/>
<rect x="480" y="240" width="10.5" height="10.5" fill="#cfab95"/>
<rect x="490" y="240" width="10.5" height="10.5" fill="#c3aa93"/>
<rect x="500" y="240" width="10.5" height="10.5" fill="#b6a990"/>
<rect x="510" y="240" width="10.5" height="10.5" fill="#a9a88e"/>
<rect x="520" y="240" width="10.5" height="10.5" fill="#9faa8e"/>
<rect x="530" y="240" width="10.5" height="10.5" fill="#98b094"/>
<rect x="540" y="240" width="10.5" height="10.5" fill="#97b99b"/>
<rect x="550" y="240" width="10.5" height="10.5" fill="#9ac1a2"/>
<rect x="560" y="240" width="10.5" height="10.5" fill="#9dc9a9"/>
<rect x="570" y="240" width="10.5" height="10.5" fill="#a2cfb0"/>
<rect x="180" y="250" width="10.5" height="10.5" fill="#302a24"/>
<rect x="190" y="250" width="10.5" height="10.5" fill="#322b24"/>
<rect x="200" y="250" width="10.5" height="10.5" fill="#332c25"/>
<rect x="210" y="250" width="10.5" height="10.5" fill="#352d26"/>
<rect x="220" y="250" width="10.5" height="10.5" fill="#362e27"/>
<rect x="230" y="250" width="10.5" height="10.5" fill="#372e27"/>
<rect x="240" y="250" width="10.5" height="10.5" fill="#3c312b"/>
<rect x="250" y="250" width="10.5" height="10.5" fill="#41352e"/>
<rect x="260" y="250" width="10.5" height="10.5" fill="#493a33"/>
<rect x="270" y="250" width="10.5" height="10.5" fill="#524039"/>
<rect x="280" y="250" width="10.5" height="10.5" fill="#5d463f"/>
<rect x="290" y="250" width="10.5" height="10.5" fill="#6a4c46"/>
<rect x="300" y="250" width="10.5" height="10.5" fill="#7b554e"/>
<rect x="310" y="250" width="10.5" height="10.5" fill="#905f58"/>
<rect x="320" y="250" width="10.5" height="10.5" fill="#a66861"/>
<rect x="330" y="250" width="10.5" height="10.5" fill="#b76d66"/>
<rect x="340" y="250" width="10.5" height="10.5" fill="#c87169"/>
<rect x="350" y="250" width="10.5" height="10.5" fill="#d77971"/>
<rect x="360" y="250" width="10.5" height="10.5" fill="#e28078"/>
<rect x="370" y="250" width="10.5" height="10.5" fill="#e8857d"/>
<rect x="380" y="250" width="10.5" height="10.5" fill="#ea8c83"/>
<rect x="390" y="250" width="10.5" height="10.5" fill="#eb9087"/>
<rect x="400" y="250" width="10.5" height="10.5" fill="#ea958b"/>
<rect x="410" y="250" width="10.5" height="10.5" fill="#e89b90"/>
<rect x="420" y="250" width="10.5" height="10.5" fill="#e69f93"/>
<rect x="430" y="250" width="10.5" height="10.5" fill="#e4a395"/>
<rect x="440" y="250" width="10.5" height="10.5" fill="#e3a898"/>
<rect x="450" y="250" width="10.5" height="10.5" fill="#e3ac9b"/>
<rect x="460" y="250" width="10.5" height="10.5" fill="#e1af9c"/>
<rect x="470" y="250" width="10.5" height="10.5" fill="#dbaf9a"/>
<rect x="480" y="250" width="10.5" height="10.5" fill="#d3ad97"/>
<rect x="490" y="250" width="10.5" height="10.5" fill="#c9ab93"/>
<rect x="500" y="250" width="10.5" height="10.5" fill="#bba88f"/>
<rect x="510" y="250" width="10.5" height="10.5" fill="#aea78b"/>
<rect x="520" y="250" width="10.5" height="10.5" fill="#a4a88d"/>
<rect x="530" y="250" width="10.5" height="10.5" fill="#9eae91"/>
<rect x="540" y="250" width="10.5" height="10.5" fill="#9cb597"/>
<rect x="550" y="250" width="10.5" height="10.5" fill="#9cbc9e"/>
<rect x="560" y="250" width="10.5" height="10.5" fill="#9fc3a5"/>
<rect x="190" y="260" width="10.5" height="10.5" fill="#312923"/>
<rect x="200" y="260" width="10.5" height="10.5" fill="#322a24"/>
<rect x="210" y="260" width="10.5" height="10.5" fill="#332b24"/>
<rect x="220" y="260" width="10.5" height="10.5" fill="#342b25"/>
<rect x="230" y="260" width="10.5" height="10.5" fill="#362c26"/>
<rect x="240" y="260" width="10.5" height="10.5" fill="#382f28"/>
<rect x="250" y="260" width="10.5" height="10.5" fill="#3c322b"/>
<rect x="260" y="260" width="10.5" height="10.5" fill="#43362f"/>
<rect x="270" y="260" width="10.5" height="10.5" fill="#4c3b35"/>
<rect x="280" y="260" width="10.5" height="10.5" fill="#57423b"/>
<rect x="290" y="260" width="10.5" height="10.5" fill="#644842"/>
<rect x="300" y="260" width="10.5" height="10.5" fill="#735049"/>
<rect x="310" y="260" width="10.5" height="10.5" fill="#865852"/>
<rect x="320" y="260" width="10.5" height="10.5" fill="#9b615a"/>
<rect x="330" y="260" width="10.5" height="10.5" fill="#b16861"/>
<rect x="340" y="260" width="10.5" height="10.5" fill="#c76e67"/>
<rect x="350" y="260" width="10.5" height="10.5" fill="#da766e"/>
<rect x="360" y="260" width="10.5" height="10.5" fill="#e77d75"/>
<rect x="370" y="260" width="10.5" height="10.5" fill="#ef847c"/>
<rect x="380" y="260" width="10.5" height="10.5" fill="#f38a81"/>
<rect x="390" y="260" width="10.5" height="10.5" fill="#f48d84"/>
<rect x="400" y="260" width="10.5" height="10.5" fill="#f19288"/>
<rect x="410" y="260" width="10.5" height="10.5" fill="#ee988d"/>
<rect x="420" y="260" width="10.5" height="10.5" fill="#eb9d91"/>
<rect x="430" y="260" width="10.5" height="10.5" fill="#e8a295"/>
<rect x="440" y="260" width="10.5" height="10.5" fill="#e6a798"/>
<rect x="450" y="260" width="10.5" height="10.5" fill="#e5ab9b"/>
<rect x="460" y="260" width="10.5" height="10.5" fill="#e2af9c"/>
<rect x="470" y="260" width="10.5" height="10.5" fill="#dcaf9a"/>
<rect x="480" y="260" width="10.5" height="10.5" fill="#d5ad96"/>
<rect x="490" y="260" width="10.5" height="10.5" fill="#ccab92"/>
<rect x="500" y="260" width="10.5" height="10.5" fill="#bda68d"/>
<rect x="510" y="260" width="10.5" height="10.5" fill="#b1a489"/>
<rect x="520" y="260" width="10.5" height="10.5" fill="#a7a68a"/>
<rect x="530" y="260" width="10.5" height="10.5" fill="#a2ab8e"/>
<rect x="540" y="260" width="10.5" height="10.5" fill="#9fb194"/>
<rect x="550" y="260" width="10.5" height="10.5" fill="#9fb89a"/>
<rect x="560" y="260" width="10.5" height="10.5" fill="#a1bea0"/>
<rect x="200" y="270" width="10.5" height="10.5" fill="#312923"/>
<rect x="210" y="270" width="10.5" height="10.5" fill="#322a23"/>
<rect x="220" y="270" width="10.5" height="10.5" fill="#332a24"/>
<rect x="230" y="270" width="10.5" height="10.5" fill="#352b25"/>
<rect x="240" y="270" width="10.5" height="10.5" fill="#372d27"/>
<rect x="250" y="270" width="10.5" height="10.5" fill="#392f29"/>
<rect x="260" y="270" width="10.5" height="10.5" fill="#3e322c"/>
<rect x="270" y="270" width="10.5" height="10.5" fill="#473932"/>
<rect x="280" y="270" width="10.5" height="10.5" fill="#533f38"/>
<rect x="290" y="270" width="10.5" height="10.5" fill="#5f453e"/>
<rect x="300" y="270" width="10.5" height="10.5" fill="#6b4a44"/>
<rect x="310" y="270" width="10.5" height="10.5" fill="#7d534c"/>
<rect x="320" y="270" width="10.5" height="10.5" fill="#925b54"/>
<rect x="330" y="270" width="10.5" height="10.5" fill="#aa635d"/>
<rect x="340" y="270" width="10.5" height="10.5" fill="#c56c64"/>
<rect x="350" y="270" width="10.5" height="10.5" fill="#db736c"/>
<rect x="360" y="270" width="10.5" height="10.5" fill="#e97b73"/>
<rect x="370" y="270" width="10.5" height="10.5" fill="#f2837a"/>
<rect x="380" y="270" width="10.5" height="10.5" fill="#f88980"/>
<rect x="390" y="270" width="10.5" height="10.5" fill="#f98c84"/>
<rect x="400" y="270" width="10.5" height="10.5" fill="#f59187"/>
<rect x="410" y="270" width="10.5" height="10.5" fill="#f1978b"/>
<rect x="420" y="270" width="10.5" height="10.5" fill="#ef9c90"/>
<rect x="430" y="270" width="10.5" height="10.5" fill="#eba194"/>
<rect x="440" y="270" width="10.5" height="10.5" fill="#e8a698"/>
<rect x="450" y="270" width="10.5" height="10.5" fill="#e5aa9b"/>
<rect x="460" y="270" width="10.5" height="10.5" fill="#e1ad9b"/>
<rect x="470" y="270" width="10.5" height="10.5" fill="#daac98"/>
<rect x="480" y="270" width="10.5" height="10.5" fill="#d2aa94"/>
<rect x="490" y="270" width="10.5" height="10.5" fill="#c8a78e"/>
<rect x="500" y="270" width="10.5" height="10.5" fill="#bca389"/>
<rect x="510" y="270" width="10.5" height="10.5" fill="#b0a186"/>
<rect x="520" y="270" width="10.5" height="10.5" fill="#a8a387"/>
<rect x="530" y="270" width="10.5" height="10.5" fill="#a4a88b"/>
<rect x="540" y="270" width="10.5" height="10.5" fill="#a2ae91"/>
<rect x="550" y="270" width="10.5" height="10.5" fill="#a2b497"/>
<rect x="210" y="280" width="10.5" height="10.5" fill="#322923"/>
<rect x="220" y="280" width="10.5" height="10.5" fill="#342a24"/>
<rect x="230" y="280" width="10.5" height="10.5" fill="#352b25"/>
<rect x="240" y="280" width="10.5" height="10.5" fill="#372d27"/>
<rect x="250" y="280" width="10.5" height="10.5" fill="#3a2f29"/>
<rect x="260" y="280" width="10.5" height="10.5" fill="#3f322c"/>
<rect x="270" y="280" width="10.5" height="10.5" fill="#473830"/>
<rect x="280" y="280" width="10.5" height="10.5" fill="#523d36"/>
<rect x="290" y="280" width="10.5" height="10.5" fill="#5d433c"/>
<rect x="300" y="280" width="10.5" height="10.5" fill="#6a4942"/>
<rect x="310" y="280" width="10.5" height="10.5" fill="#7a5049"/>
<rect x="320" y="280" width="10.5" height="10.5" fill="#8c5850"/>
<rect x="330" y="280" width="10.5" height="10.5" fill="#a66059"/>
<rect x="340" y="280" width="10.5" height="10.5" fill="#c06961"/>
<rect x="350" y="280" width="10.5" height="10.5" fill="#d67169"/>
<rect x="360" y="280" width="10.5" height="10.5" fill="#e57870"/>
<rect x="370" y="280" width="10.5" height="10.5" fill="#ef7f77"/>
<rect x="380" y="280" width="10.5" height="10.5" fill="#f6867e"/>
<rect x="390" y="280" width="10.5" height="10.5" fill="#f88b83"/>
<rect x="400" y="280" width="10.5" height="10.5" fill="#f59086"/>
<rect x="410" y="280" width="10.5" height="10.5" fill="#f2968a"/>
<rect x="420" y="280" width="10.5" height="10.5" fill="#f09b8f"/>
<rect x="430" y="280" width="10.5" height="10.5" fill="#ec9f93"/>
<rect x="440" y="280" width="10.5" height="10.5" fill="#e8a396"/>
<rect x="450" y="280" width="10.5" height="10.5" fill="#e4a99a"/>
<rect x="460" y="280" width="10.5" height="10.5" fill="#deaa98"/>
<rect x="470" y="280" width="10.5" height="10.5" fill="#d7a995"/>
<rect x="480" y="280" width="10.5" height="10.5" fill="#cea891"/>
<rect x="490" y="280" width="10.5" height="10.5" fill="#c4a48c"/>
<rect x="500" y="280" width="10.5" height="10.5" fill="#b9a086"/>
<rect x="510" y="280" width="10.5" height="10.5" fill="#af9e83"/>
<rect x="520" y="280" width="10.5" height="10.5" fill="#a9a084"/>
<rect x="530" y="280" width="10.5" height="10.5" fill="#a6a589"/>
<rect x="540" y="280" width="10.5" height="10.5" fill="#a5ab8f"/>
<rect x="550" y="280" width="10.5" height="10.5" fill="#a4b194"/>
<rect x="220" y="290" width="10.5" height="10.5" fill="#352a24"/>
<rect x="230" y="290" width="10.5" height="10.5" fill="#372b25"/>
<rect x="240" y="290" width="10.5" height="10.5" fill="#3a2d27"/>
<rect x="250" y="290" width="10.5" height="10.5" fill="#3d3029"/>
<rect x="260" y="290" width="10.5" height="10.5" fill="#43332c"/>
<rect x="270" y="290" width="10.5" height="10.5" fill="#4a3831"/>
<rect x="280" y="290" width="10.5" height="10.5" fill="#543d36"/>
<rect x="290" y="290" width="10.5" height="10.5" fill="#5f423b"/>
<rect x="300" y="290" width="10.5" height="10.5" fill="#6c4841"/>
<rect x="310" y="290" width="10.5" height="10.5" fill="#7c4f48"/>
<rect x="320" y="290" width="10.5" height="10.5" fill="#8e564f"/>
<rect x="330" y="290" width="10.5" height="10.5" fill="#a35e57"/>
<rect x="340" y="290" width="10.5" height="10.5" fill="#ba665e"/>
<rect x="350" y="290" width="10.5" height="10.5" fill="#cd6e66"/>
<rect x="360" y="290" width="10.5" height="10.5" fill="#dc756d"/>
<rect x="370" y="290" width="10.5" height="10.5" fill="#e77c74"/>
<rect x="380" y="290" width="10.5" height="10.5" fill="#ee827a"/>
<rect x="390" y="290" width="10.5" height="10.5" fill="#f1887f"/>
<rect x="400" y="290" width="10.5" height="10.5" fill="#f18d84"/>
<rect x="410" y="290" width="10.5" height="10.5" fill="#ef9388"/>
<rect x="420" y="290" width="10.5" height="10.5" fill="#ed988c"/>
<rect x="430" y="290" width="10.5" height="10.5" fill="#ea9c90"/>
<rect x="440" y="290" width="10.5" height="10.5" fill="#e6a193"/>
<rect x="450" y="290" width="10.5" height="10.5" fill="#e1a495"/>
<rect x="460" y="290" width="10.5" height="10.5" fill="#dba694"/>
<rect x="470" y="290" width="10.5" height="10.5" fill="#d4a692"/>
<rect x="480" y="290" width="10.5" height="10.5" fill="#cba48f"/>
<rect x="490" y="290" width="10.5" height="10.5" fill="#c2a18a"/>
<rect x="500" y="290" width="10.5" height="10.5" fill="#b89e85"/>
<rect x="510" y="290" width="10.5" height="10.5" fill="#b19e84"/>
<rect x="520" y="290" width="10.5" height="10.5" fill="#aba085"/>
<rect x="530" y="290" width="10.5" height="10.5" fill="#a9a489"/>
<rect x="540" y="290" width="10.5" height="10.5" fill="#a7a98d"/>
<rect x="230" y="300" width="10.5" height="10.5" fill="#3a2c26"/>
<rect x="240" y="300" width="10.5" height="10.5" fill="#3d2e28"/>
<rect x="250" y="300" width="10.5" height="10.5" fill="#41312a"/>
<rect x="260" y="300" width="10.5" height="10.5" fill="#47342d"/>
<rect x="270" y="300" width="10.5" height="10.5" fill="#4e3831"/>
<rect x="280" y="300" width="10.5" height="10.5" fill="#583d36"/>
<rect x="290" y="300" width="10.5" height="10.5" fill="#63423b"/>
<rect x="300" y="300" width="10.5" height="10.5" fill="#6f4841"/>
<rect x="310" y="300" width="10.5" height="10.5" fill="#7e4e47"/>
<rect x="320" y="300" width="10.5" height="10.5" fill="#8f554e"/>
<rect x="330" y="300" width="10.5" height="10.5" fill="#a15d55"/>
<rect x="340" y="300" width="10.5" height="10.5" fill="#b4645c"/>
<rect x="350" y="300" width="10.5" height="10.5" fill="#c56b64"/>
<rect x="360" y="300" width="10.5" height="10.5" fill="#d3736b"/>
<rect x="370" y="300" width="10.5" height="10.5" fill="#de7971"/>
<rect x="380" y="300" width="10.5" height="10.5" fill="#e57f77"/>
<rect x="390" y="300" width="10.5" height="10.5" fill="#e9857c"/>
<rect x="400" y="300" width="10.5" height="10.5" fill="#eb8b81"/>
<rect x="410" y="300" width="10.5" height="10.5" fill="#ea9085"/>
<rect x="420" y="300" width="10.5" height="10.5" fill="#e89589"/>
<rect x="430" y="300" width="10.5" height="10.5" fill="#e6998c"/>
<rect x="440" y="300" width="10.5" height="10.5" fill="#e29d8f"/>
<rect x="450" y="300" width="10.5" height="10.5" fill="#dda090"/>
<rect x="460" y="300" width="10.5" height="10.5" fill="#d8a190"/>
<rect x="470" y="300" width="10.5" height="10.5" fill="#d1a28e"/>
<rect x="480" y="300" width="10.5" height="10.5" fill="#c9a18c"/>
<rect x="490" y="300" width="10.5" height="10.5" fill="#c19f89"/>
<rect x="500" y="300" width="10.5" height="10.5" fill="#ba9e86"/>
<rect x="510" y="300" width="10.5" height="10.5" fill="#b39e85"/>
<rect x="520" y="300" width="10.5" height="10.5" fill="#aea086"/>
<rect x="530" y="300" width="10.5" height="10.5" fill="#aba389"/>
<rect x="540" y="300" width="10.5" height="10.5" fill="#aaa78d"/>
<rect x="230" y="310" width="10.5" height="10.5" fill="#3d2d27"/>
<rect x="240" y="310" width="10.5" height="10.5" fill="#402f29"/>
<rect x="250" y="310" width="10.5" height="10.5" fill="#45322b"/>
<rect x="260" y="310" width="10.5" height="10.5" fill="#4b352f"/>
<rect x="270" y="310" width="10.5" height="10.5" fill="#523932"/>
<rect x="280" y="310" width="10.5" height="10.5" fill="#5b3e37"/>
<rect x="290" y="310" width="10.5" height="10.5" fill="#66433c"/>
<rect x="300" y="310" width="10.5" height="10.5" fill="#724841"/>
<rect x="480" y="310" width="10.5" height="10.5" fill="#c89e89"/>
<rect x="490" y="310" width="10.5" height="10.5" fill="#c19d88"/>
<rect x="500" y="310" width="10.5" height="10.5" fill="#bb9d86"/>
<rect x="510" y="310" width="10.5" height="10.5" fill="#b59e86"/>
<rect x="520" y="310" width="10.5" height="10.5" fill="#b1a087"/>
<rect x="530" y="310" width="10.5" height="10.5" fill="#aea389"/>
</g></g>
<linearGradient id="fadeL" gradientUnits="userSpaceOnUse" x1="240" y1="0" x2="390" y2="0"><stop offset="0" stop-color="#c4bea4" stop-opacity="0.55"/><stop offset="0.6" stop-color="#d4c8ac" stop-opacity="0.4"/><stop offset="1" stop-color="#e8d8bc" stop-opacity="0"/></linearGradient>
<linearGradient id="fadeG" gradientUnits="userSpaceOnUse" x1="240" y1="0" x2="380" y2="0"><stop offset="0" stop-color="#7fa888" stop-opacity="0.5"/><stop offset="0.6" stop-color="#8fb090" stop-opacity="0.4"/><stop offset="1" stop-color="#9fb898" stop-opacity="0"/></linearGradient>
<linearGradient id="ridge" gradientUnits="userSpaceOnUse" x1="327" y1="0" x2="490" y2="0"><stop offset="0" stop-color="#e8dcc4" stop-opacity="0.95"/><stop offset="0.35" stop-color="#dcd8c0" stop-opacity="0.6"/><stop offset="0.75" stop-color="#f4e4d4" stop-opacity="0.9"/><stop offset="1" stop-color="#e0ecd8" stop-opacity="0.2"/></linearGradient>
<g clip-path="url(#sc)"><g filter="url(#bl4)">
<path d="M291.4,47.7 C296.4,48.5 311,51.1 321.7,52.6 C332.4,54.1 344.1,55.5 355.3,56.6 C366.5,57.7 383.3,58.8 388.9,59.3" fill="none" stroke="url(#fadeL)" stroke-width="6" opacity="1.0"/>
<path d="M289.4,57.2 C294.4,58 309,60.6 319.7,62.1 C330.4,63.6 342.1,65 353.3,66.1 C364.5,67.2 381.3,68.3 386.9,68.8" fill="none" stroke="url(#fadeG)" stroke-width="6" opacity="1.0"/>
<path d="M269.5,74 C275.4,75 293.5,78.3 305,80.1 C316.5,81.8 327.3,83.5 338.5,84.5 C349.7,85.5 366.5,85.9 372.1,86.2" fill="none" stroke="url(#fadeL)" stroke-width="6" opacity="0.9"/>
<path d="M267.5,83.5 C273.4,84.5 291.5,87.8 303,89.6 C314.5,91.3 325.3,93 336.5,94 C347.7,95 364.5,95.4 370.1,95.7" fill="none" stroke="url(#fadeG)" stroke-width="6" opacity="0.9"/>
<path d="M252,97.1 C258,98.1 276.6,101.5 288.2,103 C299.8,104.5 310.5,105.2 321.7,106 C332.9,106.8 349.7,107.7 355.3,108" fill="none" stroke="url(#fadeL)" stroke-width="6" opacity="0.6"/>
<path d="M250,106.6 C256,107.6 274.6,111 286.2,112.5 C297.8,114 308.5,114.7 319.7,115.5 C330.9,116.3 347.7,117.2 353.3,117.5" fill="none" stroke="url(#fadeG)" stroke-width="6" opacity="0.6"/>
<path d="M238.6,116.1 C244.1,116.8 257.5,119 271.4,120.4 C285.2,121.9 307.7,123.8 321.7,124.8 C335.7,125.8 349.7,126.2 355.3,126.5" fill="none" stroke="url(#fadeL)" stroke-width="6" opacity="0.4"/>
<path d="M236.6,125.6 C242.1,126.3 255.5,128.4 269.4,129.9 C283.2,131.4 305.7,133.3 319.7,134.3 C333.7,135.3 347.7,135.7 353.3,136" fill="none" stroke="url(#fadeG)" stroke-width="6" opacity="0.4"/>
<path d="M329.5,11.5 C334.3,12.3 348.7,14.8 358.4,16.2 C368.1,17.6 377.1,18.5 387.6,20.2 C398.1,21.9 411.1,25 421.5,26.6 C431.9,28.2 441.9,29.1 450,29.6 C458.1,30.1 466.7,29.8 470,29.8" fill="none" stroke="url(#ridge)" stroke-width="3.6"/>
</g></g>
<path d="M146.8,263.3 L187.7,226.5 C192,230 205.9,240.7 213.6,247.6 C221.3,254.5 228.1,261.3 233.7,267.7 C239.3,274.1 243,280.2 247.2,286.2 C251.3,292.2 256.7,300.9 258.6,303.8 Z" fill="#cdcdcd" stroke="#333" stroke-width="0.8"/>
<path d="M187.7,226.5 C189,223 192.8,212.5 195.7,205.3 C198.6,198.1 202,190.7 205.4,183.2 C208.8,175.7 212.5,167.6 216,160.2 C219.5,152.8 223,145.5 226.6,138.9 C230.2,132.3 233.5,126.8 237.6,120.6 C241.7,114.4 247.3,106.7 251,101.6 C254.7,96.5 256.9,94 259.8,90.2 C262.7,86.4 265.3,82.7 268.5,78.5 C271.7,74.3 275.4,69.2 279,64.8 C282.6,60.4 286.3,57.2 290.4,52.2 C294.5,47.2 299.1,40 303.6,35 C308.1,29.9 313.7,25.2 317.6,21.9 C321.5,18.5 325.6,16.1 327.2,14.9 L329,8.8 L336.9,1.4 L654.5,62.8 C650.7,69.1 637.2,91.2 631.5,100.7 C625.8,110.2 625.6,110.6 620,120 C614.4,129.4 605.3,144.8 598.1,157 C590.9,169.2 584,180.8 577,193 C570,205.2 562.9,217.9 556.1,230.1 C549.3,242.3 542.3,254.4 536,266 C529.7,277.6 521.2,293.9 518.2,299.5 C513.1,298.6 501,295.5 487.5,293.8 C474,292.1 452.4,290.5 437.1,289.4 C421.8,288.3 410.1,287.3 395.5,287.2 C380.9,287.1 363.1,287.6 349.5,288.5 C335.9,289.4 324.6,291 313.6,292.5 C302.7,294 293,295.4 283.8,297.3 C274.6,299.2 262.8,302.7 258.6,303.8 C256.7,300.9 251.3,292.2 247.2,286.2 C243,280.2 239.3,274.1 233.7,267.7 C228.1,261.3 221.3,254.5 213.6,247.6 C205.9,240.7 192,230 187.7,226.5 Z" fill="none" stroke="#0c0c0c" stroke-width="1.05" stroke-linejoin="round"/>
<line x1="146.8" y1="263.3" x2="121.8" y2="132" stroke="#111" stroke-width="1.1"/>
<line x1="146.8" y1="263.3" x2="511.7" y2="395.8" stroke="#111" stroke-width="1.1"/>
<line x1="511.7" y1="395.8" x2="639" y2="164.6" stroke="#111" stroke-width="1.1"/>
<line x1="126.2" y1="148.5" x2="132.2" y2="150.7" stroke="#333" stroke-width="0.8"/>
<line x1="134" y1="190.4" x2="140.3" y2="192.7" stroke="#333" stroke-width="0.8"/>
<line x1="141.2" y1="228.3" x2="147.2" y2="230.5" stroke="#333" stroke-width="0.8"/>
<line x1="218" y1="289.2" x2="221" y2="284.7" stroke="#333" stroke-width="0.8"/>
<line x1="315.3" y1="324.5" x2="318.3" y2="320" stroke="#333" stroke-width="0.8"/>
<line x1="396.4" y1="353.8" x2="399.4" y2="349.3" stroke="#333" stroke-width="0.8"/>
<line x1="484" y1="384.9" x2="487" y2="380.4" stroke="#333" stroke-width="0.8"/>
<line x1="545.5" y1="333.5" x2="539" y2="331.8" stroke="#333" stroke-width="0.8"/>
<line x1="584.7" y1="264.4" x2="578.2" y2="262.7" stroke="#333" stroke-width="0.8"/>
<line x1="609.9" y1="217.4" x2="603.4" y2="215.7" stroke="#333" stroke-width="0.8"/>
<line x1="632.5" y1="176.3" x2="626" y2="174.6" stroke="#333" stroke-width="0.8"/>
<path d="M397.9,13.1 C396.2,15.3 392.3,21.2 387.7,26.3 C383.1,31.4 375,38.6 370.1,43.8 C365.2,49 363.4,51.8 358.5,57.5 C353.6,63.2 346.4,71.5 341,78.2 C335.6,84.9 330.8,92 326.4,97.7 C322,103.4 319.1,106.2 314.7,112.5 C310.3,118.8 303.9,129.6 300,135.5 C296.1,141.4 295.5,142.1 291.5,148 C287.5,153.9 281.4,161.7 276.2,170.8 C271,179.9 265.3,191.8 260.4,202.8 C255.5,213.8 250.8,226.4 246.6,237 C242.4,247.6 237.3,261.2 235.4,266.1" fill="none" stroke="#0a0a0a" stroke-width="1.8" stroke-dasharray="8 5.2" />
<path d="M485.4,29.5 C483.7,31.6 480.1,36.3 475.3,42 C470.6,47.7 461.9,57.6 456.9,63.8 C451.9,70 448.8,74.4 445.1,78.9 C441.4,83.4 438.8,85.9 434.9,90.7 C431,95.5 426,101.6 421.5,107.5 C417,113.4 411.9,120.5 408,125.9 C404.1,131.3 401.3,135.4 398,140 C394.7,144.6 392.6,147.1 388.2,153.6 C383.8,160.1 376.7,170.7 371.4,178.8 C366.1,186.9 361.3,193.6 356.3,202.3 C351.3,211 346.5,220.5 341.2,230.8 C335.9,241.2 329,254.1 324.4,264.4 C319.8,274.7 315.4,287.8 313.6,292.5" fill="none" stroke="#0a0a0a" stroke-width="1.8" stroke-dasharray="8 5.2" />
<path d="M554.2,43.5 C552.5,46 548.1,53.4 544.2,58.8 C540.3,64.1 534.9,70.2 530.7,75.6 C526.5,81 522.9,86 519,91.3 C515.1,96.6 511.4,101.7 507.2,107.5 C503,113.3 497.4,121.1 493.8,125.9 C490.2,130.7 491.2,128.1 485.6,136.1 C480,144.1 468.2,161.3 460.4,173.7 C452.6,186.1 445.3,199.2 438.6,210.7 C431.9,222.2 426.5,231.4 420.1,242.6 C413.7,253.8 404.1,270.4 400,277.8 C395.9,285.2 396.2,285.6 395.5,287.2" fill="none" stroke="#0a0a0a" stroke-width="1.8" stroke-dasharray="8 5.2" />
<path d="M621.8,69.3 C620,72 615.3,79.1 611.3,85.6 C607.3,92.1 602.4,100.8 597.9,108.1 C593.4,115.4 589.5,122 584.5,129.3 C579.5,136.6 574.6,141.4 567.9,151.9 C561.2,162.4 551.7,179.9 544.4,192.2 C537.1,204.5 530.9,214.1 524.2,225.8 C517.5,237.6 510.2,251.4 504.1,262.7 C498,274 490.3,288.6 487.5,293.8" fill="none" stroke="#0a0a0a" stroke-width="1.8" stroke-dasharray="8 5.2" />
<path d="M195.7,205.3 C201.5,205 219.6,203.8 230.4,203.3 C241.2,202.8 246.6,202.6 260.6,202.3 C274.6,202 298.4,201.6 314.3,201.6 C330.2,201.6 342,201.5 356.3,202.3 C370.6,203.1 386.3,205.2 400,206.6 C413.7,208 424.6,208.6 438.6,210.7 C452.6,212.8 469.7,216.6 484,219.1 C498.3,221.6 512.2,224 524.2,225.8 C536.2,227.6 550.8,229.4 556.1,230.1" fill="none" stroke="#0a0a0a" stroke-width="1.8" stroke-dasharray="8 5.2" />
<path d="M251,101.6 C257,102.5 275.6,105.3 287.2,106.8 C298.8,108.3 309.5,109.3 320.7,110.8 C331.9,112.3 343.1,114 354.3,115.8 C365.5,117.6 374.7,119.7 387.9,121.6 C401.1,123.5 421,125.6 433.6,127.4 C446.2,129.2 454.9,131.2 463.6,132.6 C472.3,134 473.8,134 485.6,136.1 C497.4,138.2 520.6,142.6 534.3,145.2 C548,147.8 557.3,149.9 567.9,151.9 C578.5,153.9 593.1,156.4 598.1,157.3" fill="none" stroke="#0a0a0a" stroke-width="1.8" stroke-dasharray="8 5.2" />
<path d="M290.4,52.2 C295.4,52.9 310,54.8 320.7,56.4 C331.4,58 343.1,60.3 354.3,62.1 C365.5,63.9 376.7,65.4 387.9,67.2 C399.1,69 411.1,71.2 421.5,73.2 C431.9,75.2 443,77.4 450,78.9 C457,80.4 455.7,80.8 463.6,82.3 C471.5,83.8 488,86.5 497.2,88 C506.4,89.5 510.6,89.7 519,91.3 C527.4,92.9 537.1,95.3 547.5,97.4 C557.9,99.5 572.7,102.3 581.1,104.1 C589.5,105.9 591.8,106.8 597.9,108.1 C604,109.4 614.6,111.2 618,111.8" fill="none" stroke="#0a0a0a" stroke-width="1.8" stroke-dasharray="8 5.2" />
<path d="M327.2,14.9 C331.7,15.7 344.2,17.9 354.3,19.7 C364.4,21.5 376.7,23.6 387.9,25.6 C399.1,27.6 411.1,29.8 421.5,31.6 C431.9,33.4 441,34.8 450,36.5 C459,38.2 464.6,39.8 475.3,42 C486,44.2 502,47.5 514,49.7 C526,51.9 536.3,53.3 547.5,55.4 C558.7,57.5 568.7,59.8 581.1,62.1 C593.5,64.4 615,68.1 621.8,69.3" fill="none" stroke="#0a0a0a" stroke-width="1.8" stroke-dasharray="8 5.2" />
<path d="M313.6,293 L315.3,324.5" fill="none" stroke="#0a0a0a" stroke-width="1.8" stroke-dasharray="6 4.3" />
<path d="M395.5,287.5 L396.4,353.8" fill="none" stroke="#0a0a0a" stroke-width="1.8" stroke-dasharray="6 4.3" />
<path d="M487.5,294 L484,357.3" fill="none" stroke="#0a0a0a" stroke-width="1.8" stroke-dasharray="6 4.3" />
<path d="M518.1,302 L513.8,361.7" fill="none" stroke="#0a0a0a" stroke-width="1.8" stroke-dasharray="6 4.3" />
<path d="M556.1,231 L545.8,333" fill="none" stroke="#0a0a0a" stroke-width="1.8" stroke-dasharray="6 4.3" />
<path d="M598.1,158 L584.9,264" fill="none" stroke="#0a0a0a" stroke-width="1.8" stroke-dasharray="6 4.3" />
<path d="M621.8,127 L610,217" fill="none" stroke="#0a0a0a" stroke-width="1.8" stroke-dasharray="6 4.3" />
<path d="M327.2,14.9 C332.4,15.6 348.3,17.7 358.4,19 C368.5,20.3 377.1,21.1 387.6,22.8 C398.1,24.6 411.1,27.9 421.5,29.5 C431.9,31.1 442.8,31.7 450,32.1 C457.2,32.5 460.5,32.2 465,32 C469.5,31.8 473.6,31 477,30.6 C480.4,30.2 484,29.7 485.4,29.5" fill="none" stroke="#111" stroke-width="0.85" />
<path d="M290.4,52.2 C294.5,52.8 306.7,54.5 315,55.5 C323.3,56.5 329.2,57 340,58.1 C350.8,59.2 366.7,60.9 380,62 C393.3,63.1 407.5,64.3 420,64.8 C432.5,65.3 443.3,65.3 455,65.1 C466.7,64.8 478.3,64.5 490,63.3 C501.7,62.1 514.8,59.7 525,58 C535.2,56.3 542.5,54.7 551.3,53 C560,51.3 573.1,48.5 577.5,47.6" fill="none" stroke="#111" stroke-width="0.85" />
<path d="M268.5,78.2 C275.2,79.2 296.9,82.5 308.8,84 C320.7,85.5 328,86.1 340,86.9 C352,87.7 367.6,88.6 380.9,89 C394.2,89.4 407.6,89.8 420,89.3 C432.4,88.8 443.3,87.2 455,86.1 C466.7,85 478.3,84.3 490,82.6 C501.7,80.8 514.8,78 525,75.6 C535.2,73.2 542.5,70.6 551.3,68.3 C560.1,66 568.1,63.9 577.6,61.5 C587.1,59.1 603.1,55 608.2,53.7" fill="none" stroke="#111" stroke-width="0.85" />
<path d="M251,101.9 C259.2,102.8 285.3,106 300.1,107.1 C314.9,108.1 324.6,107.9 340,108.2 C355.4,108.5 378,109.2 392.6,108.9 C407.2,108.6 417.2,107.7 427.6,106.6 C438,105.5 444.6,103.7 455,102.2 C465.4,100.7 479.8,99.3 490,97.5 C500.2,95.7 506.1,94.1 516.3,91.5 C526.5,88.9 541.1,85.1 551.3,82 C561.5,78.9 569.5,75.6 577.6,73 C585.7,70.4 591.5,69.1 600,66.5 C608.5,63.9 623.8,59.1 628.6,57.6" fill="none" stroke="#111" stroke-width="0.85" />
<path d="M237.9,121 C245.4,121.6 269.3,123.8 282.6,124.7 C295.9,125.6 306.4,126.1 317.6,126.4 C328.8,126.7 339,126.6 350,126.4 C361,126.2 373.8,125.6 383.8,125 C393.8,124.4 401.3,123.8 410.1,122.9 C418.9,122 427.6,121.2 436.4,119.8 C445.2,118.4 451.9,116.8 463,114.5 C474.1,112.2 489.7,109.1 503,106 C516.3,102.9 533.1,98.4 542.6,95.7 C552.1,93 553.3,92.4 560,90 C566.7,87.6 573.3,85 583,81.5 C592.7,78 608.2,72.8 618.4,69.3 C628.5,65.8 639.6,62.2 643.9,60.8" fill="none" stroke="#111" stroke-width="0.85" />
<text x="137.8" y="55" font-size="30" font-family='"Liberation Sans", sans-serif' font-weight="bold" textLength="36.8" lengthAdjust="spacingAndGlyphs" >(a)</text>
<text x="274" y="15.6" font-size="20.5" font-family='"Liberation Sans", sans-serif' textLength="40.5" lengthAdjust="spacingAndGlyphs"><tspan font-style="italic">n</tspan>=1</text>
<text x="237.5" y="53.4" font-size="20.5" font-family='"Liberation Sans", sans-serif' textLength="40.5" lengthAdjust="spacingAndGlyphs"><tspan font-style="italic">n</tspan>=2</text>
<text x="215.7" y="78.9" font-size="20.5" font-family='"Liberation Sans", sans-serif' textLength="40.5" lengthAdjust="spacingAndGlyphs"><tspan font-style="italic">n</tspan>=3</text>
<text x="199.7" y="104.6" font-size="20.5" font-family='"Liberation Sans", sans-serif' textLength="40.5" lengthAdjust="spacingAndGlyphs"><tspan font-style="italic">n</tspan>=4</text>
<text x="184" y="125.4" font-size="20.5" font-family='"Liberation Sans", sans-serif' textLength="40.5" lengthAdjust="spacingAndGlyphs"><tspan font-style="italic">n</tspan>=5</text>
<text x="110.6" y="112.7" font-size="23.4" font-family='"Liberation Sans", sans-serif' >P</text>
<text x="117.5" y="148.9" font-size="20" font-family='"Liberation Sans", sans-serif' text-anchor="end" >1</text>
<text x="123.4" y="191" font-size="20" font-family='"Liberation Sans", sans-serif' text-anchor="end" textLength="46.5" lengthAdjust="spacing">10<tspan font-size="14.6" dy="-7.5">−10</tspan></text>
<text x="130.6" y="227.4" font-size="20" font-family='"Liberation Sans", sans-serif' text-anchor="end" textLength="46.5" lengthAdjust="spacing">10<tspan font-size="14.6" dy="-7.5">−20</tspan></text>
<text x="137.1" y="263.4" font-size="20" font-family='"Liberation Sans", sans-serif' text-anchor="end" textLength="46.5" lengthAdjust="spacing">10<tspan font-size="14.6" dy="-7.5">−30</tspan></text>
<text x="111.2" y="289.4" font-size="20" font-family='"Liberation Sans", sans-serif' textLength="28.5" lengthAdjust="spacingAndGlyphs" >0.1</text>
<text x="184.3" y="315.5" font-size="18" font-family='"Liberation Sans", sans-serif' textLength="25" lengthAdjust="spacingAndGlyphs" >0.2</text>
<text x="284.4" y="350.6" font-size="20" font-family='"Liberation Sans", sans-serif' textLength="28.3" lengthAdjust="spacingAndGlyphs" >0.5</text>
<text x="367.5" y="381.5" font-size="20" font-family='"Liberation Sans", sans-serif' textLength="28" lengthAdjust="spacingAndGlyphs" >1.0</text>
<text x="455.2" y="412.2" font-size="20" font-family='"Liberation Sans", sans-serif' textLength="28.5" lengthAdjust="spacingAndGlyphs" >2.0</text>
<text x="521.5" y="410.6" font-size="20" font-family='"Liberation Sans", sans-serif' textLength="28" lengthAdjust="spacingAndGlyphs" >0.1</text>
<text x="555" y="348.8" font-size="20" font-family='"Liberation Sans", sans-serif' textLength="28" lengthAdjust="spacingAndGlyphs" >0.2</text>
<text x="592.4" y="277.5" font-size="20" font-family='"Liberation Sans", sans-serif' textLength="28.5" lengthAdjust="spacingAndGlyphs" >0.5</text>
<text x="621" y="230.3" font-size="20" font-family='"Liberation Sans", sans-serif' textLength="27.5" lengthAdjust="spacingAndGlyphs" >1.0</text>
<text x="641.7" y="189.3" font-size="20" font-family='"Liberation Sans", sans-serif' textLength="28" lengthAdjust="spacingAndGlyphs" >2.0</text>
<text transform="translate(273.2,387) skewX(-8)" font-size="26" font-family='"Liberation Serif", serif' font-style="italic">ξ</text>
<text x="626" y="289.3" font-size="24.5" font-family='"Liberation Serif", serif' font-style="italic" >η</text>
<rect x="98.1" y="459.6" width="254.5" height="253.8" fill="none" stroke="#222" stroke-width="1.5"/>
<line x1="98.1" y1="472.1" x2="103.1" y2="472.1" stroke="#222" stroke-width="1.1"/>
<line x1="352.6" y1="472.1" x2="347.6" y2="472.1" stroke="#222" stroke-width="1.1"/>
<line x1="98.1" y1="544.4" x2="103.1" y2="544.4" stroke="#222" stroke-width="1.1"/>
<line x1="352.6" y1="544.4" x2="347.6" y2="544.4" stroke="#222" stroke-width="1.1"/>
<line x1="98.1" y1="616.5" x2="103.1" y2="616.5" stroke="#222" stroke-width="1.1"/>
<line x1="352.6" y1="616.5" x2="347.6" y2="616.5" stroke="#222" stroke-width="1.1"/>
<line x1="98.1" y1="688.6" x2="103.1" y2="688.6" stroke="#222" stroke-width="1.1"/>
<line x1="352.6" y1="688.6" x2="347.6" y2="688.6" stroke="#222" stroke-width="1.1"/>
<line x1="127.4" y1="459.6" x2="127.4" y2="464.6" stroke="#222" stroke-width="1.1"/>
<line x1="127.4" y1="713.4" x2="127.4" y2="708.4" stroke="#222" stroke-width="1.1"/>
<line x1="173.1" y1="459.6" x2="173.1" y2="464.6" stroke="#222" stroke-width="1.1"/>
<line x1="173.1" y1="713.4" x2="173.1" y2="708.4" stroke="#222" stroke-width="1.1"/>
<line x1="233.6" y1="459.6" x2="233.6" y2="464.6" stroke="#222" stroke-width="1.1"/>
<line x1="233.6" y1="713.4" x2="233.6" y2="708.4" stroke="#222" stroke-width="1.1"/>
<line x1="279.3" y1="459.6" x2="279.3" y2="464.6" stroke="#222" stroke-width="1.1"/>
<line x1="279.3" y1="713.4" x2="279.3" y2="708.4" stroke="#222" stroke-width="1.1"/>
<line x1="325.2" y1="459.6" x2="325.2" y2="464.6" stroke="#222" stroke-width="1.1"/>
<line x1="325.2" y1="713.4" x2="325.2" y2="708.4" stroke="#222" stroke-width="1.1"/>
<text x="127.4" y="741.5" font-size="20" font-family='"Liberation Sans", sans-serif' text-anchor="middle" >0.1</text>
<text x="173.1" y="741.5" font-size="20" font-family='"Liberation Sans", sans-serif' text-anchor="middle" >0.2</text>
<text x="233.6" y="741.5" font-size="20" font-family='"Liberation Sans", sans-serif' text-anchor="middle" >0.5</text>
<text x="279.3" y="741.5" font-size="20" font-family='"Liberation Sans", sans-serif' text-anchor="middle" >1.0</text>
<text x="325.2" y="741.5" font-size="20" font-family='"Liberation Sans", sans-serif' text-anchor="middle" >2.0</text>
<text x="92.2" y="478.9" font-size="20" font-family='"Liberation Sans", sans-serif' text-anchor="end" >1</text>
<text x="88.4" y="551.2" font-size="20" font-family='"Liberation Sans", sans-serif' text-anchor="end" textLength="48.5" lengthAdjust="spacing">10<tspan font-size="14.6" dy="-7.5">−10</tspan></text>
<text x="88.4" y="623.3" font-size="20" font-family='"Liberation Sans", sans-serif' text-anchor="end" textLength="48.5" lengthAdjust="spacing">10<tspan font-size="14.6" dy="-7.5">−20</tspan></text>
<text x="88.4" y="695.4" font-size="20" font-family='"Liberation Sans", sans-serif' text-anchor="end" textLength="48.5" lengthAdjust="spacing">10<tspan font-size="14.6" dy="-7.5">−30</tspan></text>
<text transform="translate(18,594.8) rotate(-90)" font-size="25.5" font-family='"Liberation Sans", sans-serif' textLength="15.5" lengthAdjust="spacingAndGlyphs">P</text>
<text transform="translate(219.3,785) skewX(-8)" font-size="26" font-family='"Liberation Serif", serif' font-style="italic">ξ</text>
<path d="M126.7,663.9 C134.6,655.6 161.1,628 174.2,614.3 C187.2,600.6 197.5,589.5 205,581.5 C212.5,573.5 213.6,572.1 219.2,566.5 C224.8,560.9 232.6,553 238.5,547.8 C244.4,542.5 249.2,538.9 254.5,535 C259.9,531.1 265.2,527.8 270.6,524.5 C276,521.2 281.2,518.3 286.6,515.5 C292,512.7 297.4,510.1 302.7,507.8 C308,505.5 314.1,503.4 318.7,501.9 C323.2,500.3 326.2,499.6 330,498.5 C333.8,497.4 339.5,496.1 341.4,495.6" fill="none" stroke="#d8575a" stroke-width="2.4" />
<path d="M126.7,663.9 L311.7,471.3" fill="none" stroke="#111" stroke-width="2.6" stroke-dasharray="11 5" />
<text x="110.3" y="503.5" font-size="30" font-family='"Liberation Sans", sans-serif' font-weight="bold" textLength="39" lengthAdjust="spacingAndGlyphs" >(b)</text>
<text x="161.3" y="510.4" font-size="23.5" font-family='"Liberation Sans", sans-serif' textLength="64" lengthAdjust="spacing"><tspan font-family='"Liberation Serif", serif' font-style="italic" font-size="27">η</tspan>=0.2</text>
<rect x="430" y="459.5" width="254" height="253.8" fill="none" stroke="#222" stroke-width="1.5"/>
<line x1="430" y1="472.2" x2="435" y2="472.2" stroke="#222" stroke-width="1.1"/>
<line x1="684" y1="472.2" x2="679" y2="472.2" stroke="#222" stroke-width="1.1"/>
<line x1="430" y1="548.4" x2="435" y2="548.4" stroke="#222" stroke-width="1.1"/>
<line x1="684" y1="548.4" x2="679" y2="548.4" stroke="#222" stroke-width="1.1"/>
<line x1="430" y1="624.7" x2="435" y2="624.7" stroke="#222" stroke-width="1.1"/>
<line x1="684" y1="624.7" x2="679" y2="624.7" stroke="#222" stroke-width="1.1"/>
<line x1="430" y1="700.9" x2="435" y2="700.9" stroke="#222" stroke-width="1.1"/>
<line x1="684" y1="700.9" x2="679" y2="700.9" stroke="#222" stroke-width="1.1"/>
<line x1="459.4" y1="459.5" x2="459.4" y2="464.5" stroke="#222" stroke-width="1.1"/>
<line x1="459.4" y1="713.3" x2="459.4" y2="708.3" stroke="#222" stroke-width="1.1"/>
<line x1="530" y1="459.5" x2="530" y2="464.5" stroke="#222" stroke-width="1.1"/>
<line x1="530" y1="713.3" x2="530" y2="708.3" stroke="#222" stroke-width="1.1"/>
<line x1="600.7" y1="459.5" x2="600.7" y2="464.5" stroke="#222" stroke-width="1.1"/>
<line x1="600.7" y1="713.3" x2="600.7" y2="708.3" stroke="#222" stroke-width="1.1"/>
<line x1="661.6" y1="459.5" x2="661.6" y2="464.5" stroke="#222" stroke-width="1.1"/>
<line x1="661.6" y1="713.3" x2="661.6" y2="708.3" stroke="#222" stroke-width="1.1"/>
<text x="459.4" y="741.5" font-size="20" font-family='"Liberation Sans", sans-serif' text-anchor="middle" >0.02</text>
<text x="530" y="741.5" font-size="20" font-family='"Liberation Sans", sans-serif' text-anchor="middle" >0.1</text>
<text x="600.7" y="741.5" font-size="20" font-family='"Liberation Sans", sans-serif' text-anchor="middle" >0.5</text>
<text x="661.6" y="741.5" font-size="20" font-family='"Liberation Sans", sans-serif' text-anchor="middle" >2.0</text>
<text x="424" y="478.8" font-size="20" font-family='"Liberation Sans", sans-serif' text-anchor="end" >1</text>
<text x="421.3" y="555.6" font-size="20" font-family='"Liberation Sans", sans-serif' text-anchor="end" textLength="48.5" lengthAdjust="spacing">10<tspan font-size="14.6" dy="-7.5">−10</tspan></text>
<text x="421.3" y="632.4" font-size="20" font-family='"Liberation Sans", sans-serif' text-anchor="end" textLength="48.5" lengthAdjust="spacing">10<tspan font-size="14.6" dy="-7.5">−20</tspan></text>
<text x="421.3" y="708.2" font-size="20" font-family='"Liberation Sans", sans-serif' text-anchor="end" textLength="48.5" lengthAdjust="spacing">10<tspan font-size="14.6" dy="-7.5">−30</tspan></text>
<text x="550.5" y="787" font-size="27.5" font-family='"Liberation Serif", serif' font-style="italic" >η</text>
<path d="M459,658.5 C460.3,654 464,640.7 466.8,631.7 C469.6,622.8 472.5,613.8 475.8,604.8 C479.1,595.8 482.9,586 486.5,578 C490.1,570 493.6,563 497.2,556.6 C500.8,550.2 503.8,545.4 508,539.4 C512.2,533.4 518.1,525.2 522.3,520.8 C526.5,516.4 528.8,515.6 533,512.9 C537.2,510.2 541.3,507.8 547.3,504.7 C553.2,501.6 562.8,496.4 568.7,494 C574.7,491.6 577.6,491.7 583,490.4 C588.4,489.1 594.9,487.2 600.9,486.1 C606.9,485 612.2,484.3 618.8,483.6 C625.4,482.9 631.2,482.3 640.3,481.8 C649.4,481.3 667.7,480.6 673.2,480.4" fill="none" stroke="#3a68e2" stroke-width="2.8" stroke-linecap="butt"/>
<text x="561" y="662.8" font-size="23.5" font-family='"Liberation Sans", sans-serif' textLength="98.5" lengthAdjust="spacing">(c) <tspan font-family='"Liberation Serif", serif' font-style="italic" font-size="27">ξ</tspan>=2.5</text></svg></body></html>
